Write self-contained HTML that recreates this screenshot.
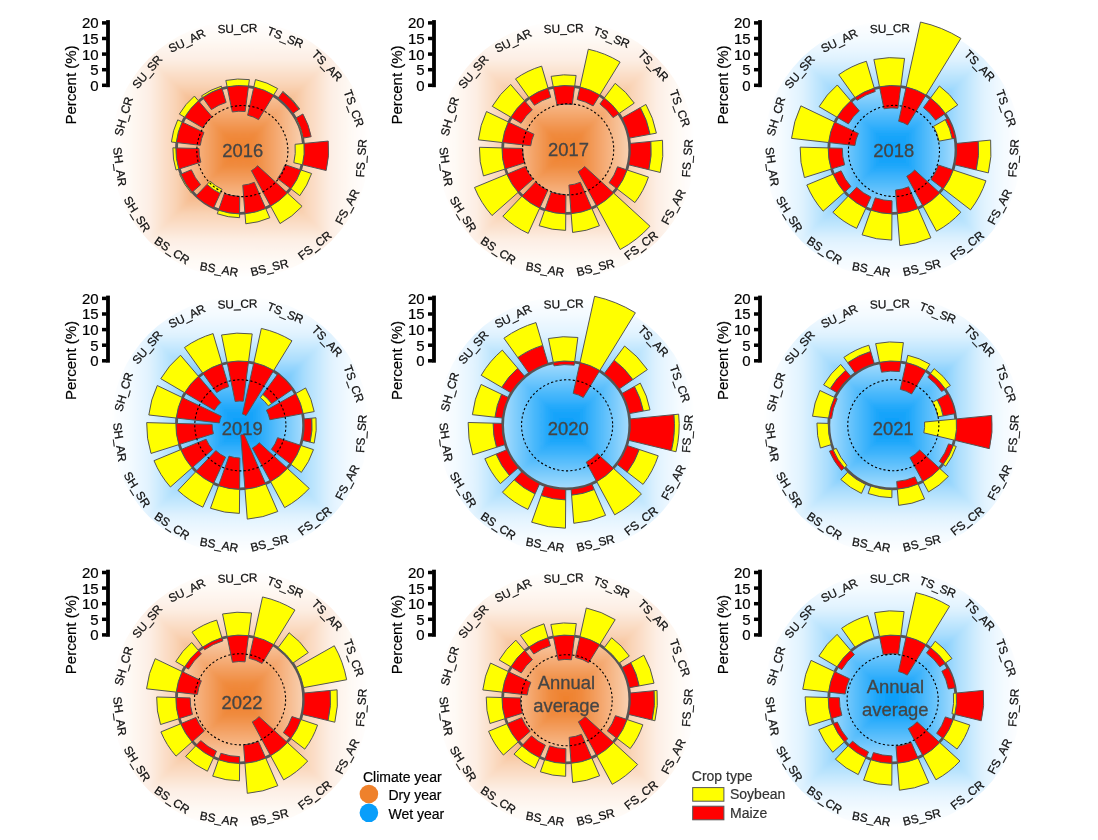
<!DOCTYPE html>
<html><head><meta charset="utf-8"><style>
html,body{margin:0;padding:0;background:#fff;}
svg{display:block;will-change:transform;}
text{-webkit-font-smoothing:antialiased;}
text{font-family:"Liberation Sans",Arial,sans-serif;}
.lab{font-size:11.8px;fill:#111;stroke:#111;stroke-width:0.25px;text-anchor:middle;}
.mz{fill:#FF0000;stroke:#555;stroke-width:1;}
.sb{fill:#FFFF00;stroke:#555;stroke-width:1;}
.zc{fill:none;stroke:#555;stroke-width:2.8;}
.dc{fill:none;stroke:#000;stroke-width:1.1;stroke-dasharray:2.2 2.2;}
.ttl{font-size:18.4px;fill:#454545;stroke:#454545;stroke-width:0.3px;text-anchor:middle;}
.tk{font-size:15px;fill:#000;stroke:#000;stroke-width:0.2px;text-anchor:end;}
.pl{font-size:15px;fill:#000;stroke:#000;stroke-width:0.2px;text-anchor:middle;}
.lg{font-size:14px;fill:#000;stroke:#000;stroke-width:0.2px;}
.lg2{font-size:14px;fill:#333;stroke:#333;stroke-width:0.2px;}
</style></head><body>
<svg width="1098" height="840" viewBox="0 0 1098 840">
<defs><filter id="bl" x="-10%" y="-10%" width="120%" height="120%"><feGaussianBlur stdDeviation="1.8"/></filter><linearGradient id="g00" gradientUnits="userSpaceOnUse" x1="240.05" y1="149.70" x2="240.05" y2="20.70"><stop offset="0.0" stop-color="#ef802c"/><stop offset="0.12" stop-color="#f08a3d"/><stop offset="0.3" stop-color="#f5ac76"/><stop offset="0.5" stop-color="#f9d3b5"/><stop offset="0.7" stop-color="#fdeee4"/><stop offset="0.85" stop-color="#fef9f4"/><stop offset="1.0" stop-color="#ffffff"/></linearGradient><linearGradient id="g01" gradientUnits="userSpaceOnUse" x1="240.05" y1="149.70" x2="369.05" y2="149.70"><stop offset="0.0" stop-color="#ef802c"/><stop offset="0.12" stop-color="#f08a3d"/><stop offset="0.3" stop-color="#f5ac76"/><stop offset="0.5" stop-color="#f9d3b5"/><stop offset="0.7" stop-color="#fdeee4"/><stop offset="0.85" stop-color="#fef9f4"/><stop offset="1.0" stop-color="#ffffff"/></linearGradient><linearGradient id="g02" gradientUnits="userSpaceOnUse" x1="240.05" y1="149.70" x2="240.05" y2="278.70"><stop offset="0.0" stop-color="#ef802c"/><stop offset="0.12" stop-color="#f08a3d"/><stop offset="0.3" stop-color="#f5ac76"/><stop offset="0.5" stop-color="#f9d3b5"/><stop offset="0.7" stop-color="#fdeee4"/><stop offset="0.85" stop-color="#fef9f4"/><stop offset="1.0" stop-color="#ffffff"/></linearGradient><linearGradient id="g03" gradientUnits="userSpaceOnUse" x1="240.05" y1="149.70" x2="111.05" y2="149.70"><stop offset="0.0" stop-color="#ef802c"/><stop offset="0.12" stop-color="#f08a3d"/><stop offset="0.3" stop-color="#f5ac76"/><stop offset="0.5" stop-color="#f9d3b5"/><stop offset="0.7" stop-color="#fdeee4"/><stop offset="0.85" stop-color="#fef9f4"/><stop offset="1.0" stop-color="#ffffff"/></linearGradient><clipPath id="c0"><circle cx="240.05" cy="149.70" r="129.0"/></clipPath><linearGradient id="g10" gradientUnits="userSpaceOnUse" x1="566.20" y1="149.70" x2="566.20" y2="20.70"><stop offset="0.0" stop-color="#ef802c"/><stop offset="0.12" stop-color="#f08a3d"/><stop offset="0.3" stop-color="#f5ac76"/><stop offset="0.5" stop-color="#f9d3b5"/><stop offset="0.7" stop-color="#fdeee4"/><stop offset="0.85" stop-color="#fef9f4"/><stop offset="1.0" stop-color="#ffffff"/></linearGradient><linearGradient id="g11" gradientUnits="userSpaceOnUse" x1="566.20" y1="149.70" x2="695.20" y2="149.70"><stop offset="0.0" stop-color="#ef802c"/><stop offset="0.12" stop-color="#f08a3d"/><stop offset="0.3" stop-color="#f5ac76"/><stop offset="0.5" stop-color="#f9d3b5"/><stop offset="0.7" stop-color="#fdeee4"/><stop offset="0.85" stop-color="#fef9f4"/><stop offset="1.0" stop-color="#ffffff"/></linearGradient><linearGradient id="g12" gradientUnits="userSpaceOnUse" x1="566.20" y1="149.70" x2="566.20" y2="278.70"><stop offset="0.0" stop-color="#ef802c"/><stop offset="0.12" stop-color="#f08a3d"/><stop offset="0.3" stop-color="#f5ac76"/><stop offset="0.5" stop-color="#f9d3b5"/><stop offset="0.7" stop-color="#fdeee4"/><stop offset="0.85" stop-color="#fef9f4"/><stop offset="1.0" stop-color="#ffffff"/></linearGradient><linearGradient id="g13" gradientUnits="userSpaceOnUse" x1="566.20" y1="149.70" x2="437.20" y2="149.70"><stop offset="0.0" stop-color="#ef802c"/><stop offset="0.12" stop-color="#f08a3d"/><stop offset="0.3" stop-color="#f5ac76"/><stop offset="0.5" stop-color="#f9d3b5"/><stop offset="0.7" stop-color="#fdeee4"/><stop offset="0.85" stop-color="#fef9f4"/><stop offset="1.0" stop-color="#ffffff"/></linearGradient><clipPath id="c1"><circle cx="566.20" cy="149.70" r="129.0"/></clipPath><linearGradient id="g20" gradientUnits="userSpaceOnUse" x1="892.40" y1="149.70" x2="892.40" y2="20.70"><stop offset="0.0" stop-color="#089efa"/><stop offset="0.12" stop-color="#1ca6fa"/><stop offset="0.3" stop-color="#5ec0fc"/><stop offset="0.5" stop-color="#a9ddfd"/><stop offset="0.7" stop-color="#dff2fe"/><stop offset="0.85" stop-color="#f3faff"/><stop offset="1.0" stop-color="#ffffff"/></linearGradient><linearGradient id="g21" gradientUnits="userSpaceOnUse" x1="892.40" y1="149.70" x2="1021.40" y2="149.70"><stop offset="0.0" stop-color="#089efa"/><stop offset="0.12" stop-color="#1ca6fa"/><stop offset="0.3" stop-color="#5ec0fc"/><stop offset="0.5" stop-color="#a9ddfd"/><stop offset="0.7" stop-color="#dff2fe"/><stop offset="0.85" stop-color="#f3faff"/><stop offset="1.0" stop-color="#ffffff"/></linearGradient><linearGradient id="g22" gradientUnits="userSpaceOnUse" x1="892.40" y1="149.70" x2="892.40" y2="278.70"><stop offset="0.0" stop-color="#089efa"/><stop offset="0.12" stop-color="#1ca6fa"/><stop offset="0.3" stop-color="#5ec0fc"/><stop offset="0.5" stop-color="#a9ddfd"/><stop offset="0.7" stop-color="#dff2fe"/><stop offset="0.85" stop-color="#f3faff"/><stop offset="1.0" stop-color="#ffffff"/></linearGradient><linearGradient id="g23" gradientUnits="userSpaceOnUse" x1="892.40" y1="149.70" x2="763.40" y2="149.70"><stop offset="0.0" stop-color="#089efa"/><stop offset="0.12" stop-color="#1ca6fa"/><stop offset="0.3" stop-color="#5ec0fc"/><stop offset="0.5" stop-color="#a9ddfd"/><stop offset="0.7" stop-color="#dff2fe"/><stop offset="0.85" stop-color="#f3faff"/><stop offset="1.0" stop-color="#ffffff"/></linearGradient><clipPath id="c2"><circle cx="892.40" cy="149.70" r="129.0"/></clipPath><linearGradient id="g30" gradientUnits="userSpaceOnUse" x1="240.05" y1="425.20" x2="240.05" y2="296.20"><stop offset="0.0" stop-color="#089efa"/><stop offset="0.12" stop-color="#1ca6fa"/><stop offset="0.3" stop-color="#5ec0fc"/><stop offset="0.5" stop-color="#a9ddfd"/><stop offset="0.7" stop-color="#dff2fe"/><stop offset="0.85" stop-color="#f3faff"/><stop offset="1.0" stop-color="#ffffff"/></linearGradient><linearGradient id="g31" gradientUnits="userSpaceOnUse" x1="240.05" y1="425.20" x2="369.05" y2="425.20"><stop offset="0.0" stop-color="#089efa"/><stop offset="0.12" stop-color="#1ca6fa"/><stop offset="0.3" stop-color="#5ec0fc"/><stop offset="0.5" stop-color="#a9ddfd"/><stop offset="0.7" stop-color="#dff2fe"/><stop offset="0.85" stop-color="#f3faff"/><stop offset="1.0" stop-color="#ffffff"/></linearGradient><linearGradient id="g32" gradientUnits="userSpaceOnUse" x1="240.05" y1="425.20" x2="240.05" y2="554.20"><stop offset="0.0" stop-color="#089efa"/><stop offset="0.12" stop-color="#1ca6fa"/><stop offset="0.3" stop-color="#5ec0fc"/><stop offset="0.5" stop-color="#a9ddfd"/><stop offset="0.7" stop-color="#dff2fe"/><stop offset="0.85" stop-color="#f3faff"/><stop offset="1.0" stop-color="#ffffff"/></linearGradient><linearGradient id="g33" gradientUnits="userSpaceOnUse" x1="240.05" y1="425.20" x2="111.05" y2="425.20"><stop offset="0.0" stop-color="#089efa"/><stop offset="0.12" stop-color="#1ca6fa"/><stop offset="0.3" stop-color="#5ec0fc"/><stop offset="0.5" stop-color="#a9ddfd"/><stop offset="0.7" stop-color="#dff2fe"/><stop offset="0.85" stop-color="#f3faff"/><stop offset="1.0" stop-color="#ffffff"/></linearGradient><clipPath id="c3"><circle cx="240.05" cy="425.20" r="129.0"/></clipPath><linearGradient id="g40" gradientUnits="userSpaceOnUse" x1="566.20" y1="425.20" x2="566.20" y2="296.20"><stop offset="0.0" stop-color="#089efa"/><stop offset="0.12" stop-color="#1ca6fa"/><stop offset="0.3" stop-color="#5ec0fc"/><stop offset="0.5" stop-color="#a9ddfd"/><stop offset="0.7" stop-color="#dff2fe"/><stop offset="0.85" stop-color="#f3faff"/><stop offset="1.0" stop-color="#ffffff"/></linearGradient><linearGradient id="g41" gradientUnits="userSpaceOnUse" x1="566.20" y1="425.20" x2="695.20" y2="425.20"><stop offset="0.0" stop-color="#089efa"/><stop offset="0.12" stop-color="#1ca6fa"/><stop offset="0.3" stop-color="#5ec0fc"/><stop offset="0.5" stop-color="#a9ddfd"/><stop offset="0.7" stop-color="#dff2fe"/><stop offset="0.85" stop-color="#f3faff"/><stop offset="1.0" stop-color="#ffffff"/></linearGradient><linearGradient id="g42" gradientUnits="userSpaceOnUse" x1="566.20" y1="425.20" x2="566.20" y2="554.20"><stop offset="0.0" stop-color="#089efa"/><stop offset="0.12" stop-color="#1ca6fa"/><stop offset="0.3" stop-color="#5ec0fc"/><stop offset="0.5" stop-color="#a9ddfd"/><stop offset="0.7" stop-color="#dff2fe"/><stop offset="0.85" stop-color="#f3faff"/><stop offset="1.0" stop-color="#ffffff"/></linearGradient><linearGradient id="g43" gradientUnits="userSpaceOnUse" x1="566.20" y1="425.20" x2="437.20" y2="425.20"><stop offset="0.0" stop-color="#089efa"/><stop offset="0.12" stop-color="#1ca6fa"/><stop offset="0.3" stop-color="#5ec0fc"/><stop offset="0.5" stop-color="#a9ddfd"/><stop offset="0.7" stop-color="#dff2fe"/><stop offset="0.85" stop-color="#f3faff"/><stop offset="1.0" stop-color="#ffffff"/></linearGradient><clipPath id="c4"><circle cx="566.20" cy="425.20" r="129.0"/></clipPath><linearGradient id="g50" gradientUnits="userSpaceOnUse" x1="892.40" y1="425.20" x2="892.40" y2="296.20"><stop offset="0.0" stop-color="#089efa"/><stop offset="0.12" stop-color="#1ca6fa"/><stop offset="0.3" stop-color="#5ec0fc"/><stop offset="0.5" stop-color="#a9ddfd"/><stop offset="0.7" stop-color="#dff2fe"/><stop offset="0.85" stop-color="#f3faff"/><stop offset="1.0" stop-color="#ffffff"/></linearGradient><linearGradient id="g51" gradientUnits="userSpaceOnUse" x1="892.40" y1="425.20" x2="1021.40" y2="425.20"><stop offset="0.0" stop-color="#089efa"/><stop offset="0.12" stop-color="#1ca6fa"/><stop offset="0.3" stop-color="#5ec0fc"/><stop offset="0.5" stop-color="#a9ddfd"/><stop offset="0.7" stop-color="#dff2fe"/><stop offset="0.85" stop-color="#f3faff"/><stop offset="1.0" stop-color="#ffffff"/></linearGradient><linearGradient id="g52" gradientUnits="userSpaceOnUse" x1="892.40" y1="425.20" x2="892.40" y2="554.20"><stop offset="0.0" stop-color="#089efa"/><stop offset="0.12" stop-color="#1ca6fa"/><stop offset="0.3" stop-color="#5ec0fc"/><stop offset="0.5" stop-color="#a9ddfd"/><stop offset="0.7" stop-color="#dff2fe"/><stop offset="0.85" stop-color="#f3faff"/><stop offset="1.0" stop-color="#ffffff"/></linearGradient><linearGradient id="g53" gradientUnits="userSpaceOnUse" x1="892.40" y1="425.20" x2="763.40" y2="425.20"><stop offset="0.0" stop-color="#089efa"/><stop offset="0.12" stop-color="#1ca6fa"/><stop offset="0.3" stop-color="#5ec0fc"/><stop offset="0.5" stop-color="#a9ddfd"/><stop offset="0.7" stop-color="#dff2fe"/><stop offset="0.85" stop-color="#f3faff"/><stop offset="1.0" stop-color="#ffffff"/></linearGradient><clipPath id="c5"><circle cx="892.40" cy="425.20" r="129.0"/></clipPath><linearGradient id="g60" gradientUnits="userSpaceOnUse" x1="240.05" y1="699.30" x2="240.05" y2="570.30"><stop offset="0.0" stop-color="#ef802c"/><stop offset="0.12" stop-color="#f08a3d"/><stop offset="0.3" stop-color="#f5ac76"/><stop offset="0.5" stop-color="#f9d3b5"/><stop offset="0.7" stop-color="#fdeee4"/><stop offset="0.85" stop-color="#fef9f4"/><stop offset="1.0" stop-color="#ffffff"/></linearGradient><linearGradient id="g61" gradientUnits="userSpaceOnUse" x1="240.05" y1="699.30" x2="369.05" y2="699.30"><stop offset="0.0" stop-color="#ef802c"/><stop offset="0.12" stop-color="#f08a3d"/><stop offset="0.3" stop-color="#f5ac76"/><stop offset="0.5" stop-color="#f9d3b5"/><stop offset="0.7" stop-color="#fdeee4"/><stop offset="0.85" stop-color="#fef9f4"/><stop offset="1.0" stop-color="#ffffff"/></linearGradient><linearGradient id="g62" gradientUnits="userSpaceOnUse" x1="240.05" y1="699.30" x2="240.05" y2="828.30"><stop offset="0.0" stop-color="#ef802c"/><stop offset="0.12" stop-color="#f08a3d"/><stop offset="0.3" stop-color="#f5ac76"/><stop offset="0.5" stop-color="#f9d3b5"/><stop offset="0.7" stop-color="#fdeee4"/><stop offset="0.85" stop-color="#fef9f4"/><stop offset="1.0" stop-color="#ffffff"/></linearGradient><linearGradient id="g63" gradientUnits="userSpaceOnUse" x1="240.05" y1="699.30" x2="111.05" y2="699.30"><stop offset="0.0" stop-color="#ef802c"/><stop offset="0.12" stop-color="#f08a3d"/><stop offset="0.3" stop-color="#f5ac76"/><stop offset="0.5" stop-color="#f9d3b5"/><stop offset="0.7" stop-color="#fdeee4"/><stop offset="0.85" stop-color="#fef9f4"/><stop offset="1.0" stop-color="#ffffff"/></linearGradient><clipPath id="c6"><circle cx="240.05" cy="699.30" r="129.0"/></clipPath><linearGradient id="g70" gradientUnits="userSpaceOnUse" x1="566.20" y1="699.30" x2="566.20" y2="570.30"><stop offset="0.0" stop-color="#ef802c"/><stop offset="0.12" stop-color="#f08a3d"/><stop offset="0.3" stop-color="#f5ac76"/><stop offset="0.5" stop-color="#f9d3b5"/><stop offset="0.7" stop-color="#fdeee4"/><stop offset="0.85" stop-color="#fef9f4"/><stop offset="1.0" stop-color="#ffffff"/></linearGradient><linearGradient id="g71" gradientUnits="userSpaceOnUse" x1="566.20" y1="699.30" x2="695.20" y2="699.30"><stop offset="0.0" stop-color="#ef802c"/><stop offset="0.12" stop-color="#f08a3d"/><stop offset="0.3" stop-color="#f5ac76"/><stop offset="0.5" stop-color="#f9d3b5"/><stop offset="0.7" stop-color="#fdeee4"/><stop offset="0.85" stop-color="#fef9f4"/><stop offset="1.0" stop-color="#ffffff"/></linearGradient><linearGradient id="g72" gradientUnits="userSpaceOnUse" x1="566.20" y1="699.30" x2="566.20" y2="828.30"><stop offset="0.0" stop-color="#ef802c"/><stop offset="0.12" stop-color="#f08a3d"/><stop offset="0.3" stop-color="#f5ac76"/><stop offset="0.5" stop-color="#f9d3b5"/><stop offset="0.7" stop-color="#fdeee4"/><stop offset="0.85" stop-color="#fef9f4"/><stop offset="1.0" stop-color="#ffffff"/></linearGradient><linearGradient id="g73" gradientUnits="userSpaceOnUse" x1="566.20" y1="699.30" x2="437.20" y2="699.30"><stop offset="0.0" stop-color="#ef802c"/><stop offset="0.12" stop-color="#f08a3d"/><stop offset="0.3" stop-color="#f5ac76"/><stop offset="0.5" stop-color="#f9d3b5"/><stop offset="0.7" stop-color="#fdeee4"/><stop offset="0.85" stop-color="#fef9f4"/><stop offset="1.0" stop-color="#ffffff"/></linearGradient><clipPath id="c7"><circle cx="566.20" cy="699.30" r="129.0"/></clipPath><linearGradient id="g80" gradientUnits="userSpaceOnUse" x1="892.40" y1="699.30" x2="892.40" y2="570.30"><stop offset="0.0" stop-color="#089efa"/><stop offset="0.12" stop-color="#1ca6fa"/><stop offset="0.3" stop-color="#5ec0fc"/><stop offset="0.5" stop-color="#a9ddfd"/><stop offset="0.7" stop-color="#dff2fe"/><stop offset="0.85" stop-color="#f3faff"/><stop offset="1.0" stop-color="#ffffff"/></linearGradient><linearGradient id="g81" gradientUnits="userSpaceOnUse" x1="892.40" y1="699.30" x2="1021.40" y2="699.30"><stop offset="0.0" stop-color="#089efa"/><stop offset="0.12" stop-color="#1ca6fa"/><stop offset="0.3" stop-color="#5ec0fc"/><stop offset="0.5" stop-color="#a9ddfd"/><stop offset="0.7" stop-color="#dff2fe"/><stop offset="0.85" stop-color="#f3faff"/><stop offset="1.0" stop-color="#ffffff"/></linearGradient><linearGradient id="g82" gradientUnits="userSpaceOnUse" x1="892.40" y1="699.30" x2="892.40" y2="828.30"><stop offset="0.0" stop-color="#089efa"/><stop offset="0.12" stop-color="#1ca6fa"/><stop offset="0.3" stop-color="#5ec0fc"/><stop offset="0.5" stop-color="#a9ddfd"/><stop offset="0.7" stop-color="#dff2fe"/><stop offset="0.85" stop-color="#f3faff"/><stop offset="1.0" stop-color="#ffffff"/></linearGradient><linearGradient id="g83" gradientUnits="userSpaceOnUse" x1="892.40" y1="699.30" x2="763.40" y2="699.30"><stop offset="0.0" stop-color="#089efa"/><stop offset="0.12" stop-color="#1ca6fa"/><stop offset="0.3" stop-color="#5ec0fc"/><stop offset="0.5" stop-color="#a9ddfd"/><stop offset="0.7" stop-color="#dff2fe"/><stop offset="0.85" stop-color="#f3faff"/><stop offset="1.0" stop-color="#ffffff"/></linearGradient><clipPath id="c8"><circle cx="892.40" cy="699.30" r="129.0"/></clipPath></defs>
<rect width="1098" height="840" fill="#fff"/>
<g clip-path="url(#c0)"><g filter="url(#bl)"><polygon points="240.05,150.40 96.35,6.70 383.75,6.70" fill="url(#g00)"/><polygon points="239.35,149.70 383.05,6.00 383.05,293.40" fill="url(#g01)"/><polygon points="240.05,149.00 383.75,292.70 96.35,292.70" fill="url(#g02)"/><polygon points="240.75,149.70 97.05,293.40 97.05,6.00" fill="url(#g03)"/></g></g><text class="lab" x="235.82" y="28.47" dx="1.7" dy="0.36em" transform="rotate(-2.00 235.82 28.47)">SU_CR</text><text class="lab" x="285.49" y="37.23" dx="0" dy="0.36em" transform="rotate(22.00 285.49 37.23)">TS_SR</text><text class="lab" x="327.31" y="65.44" dx="0" dy="0.36em" transform="rotate(46.00 327.31 65.44)">TS_AR</text><text class="lab" x="354.03" y="108.21" dx="0" dy="0.36em" transform="rotate(70.00 354.03 108.21)">TS_CR</text><text class="lab" x="361.05" y="158.16" dx="0" dy="0.36em" transform="rotate(-86.00 361.05 158.16)">FS_SR</text><text class="lab" x="347.15" y="206.65" dx="0" dy="0.36em" transform="rotate(-62.00 347.15 206.65)">FS_AR</text><text class="lab" x="314.73" y="245.29" dx="0" dy="0.36em" transform="rotate(-38.00 314.73 245.29)">FS_CR</text><text class="lab" x="269.40" y="267.40" dx="0" dy="0.36em" transform="rotate(-14.00 269.40 267.40)">BS_SR</text><text class="lab" x="218.99" y="269.16" dx="0" dy="0.36em" transform="rotate(10.00 218.99 269.16)">BS_AR</text><text class="lab" x="172.22" y="250.26" dx="0" dy="0.36em" transform="rotate(34.00 172.22 250.26)">BS_CR</text><text class="lab" x="137.18" y="213.98" dx="0" dy="0.36em" transform="rotate(58.00 137.18 213.98)">SH_SR</text><text class="lab" x="119.93" y="166.58" dx="0" dy="0.36em" transform="rotate(82.00 119.93 166.58)">SH_AR</text><text class="lab" x="123.45" y="116.27" dx="0" dy="0.36em" transform="rotate(-74.00 123.45 116.27)">SH_CR</text><text class="lab" x="147.13" y="71.73" dx="0" dy="0.36em" transform="rotate(-50.00 147.13 71.73)">SU_SR</text><text class="lab" x="186.88" y="40.68" dx="0" dy="0.36em" transform="rotate(-26.00 186.88 40.68)">SU_AR</text><circle class="zc" cx="240.05" cy="149.70" r="63.6"/><path class="mz" d="M232.31,111.99L227.14,86.81A64.20,64.20 0 0 1 248.54,86.06L245.14,111.54A38.50,38.50 0 0 0 232.31,111.99Z"/><path class="sb" d="M227.14,86.81L225.83,80.44A70.70,70.70 0 0 1 249.40,79.62L248.54,86.06A64.20,64.20 0 0 0 227.14,86.81Z"/><path class="mz" d="M247.63,115.22L253.84,87.00A64.20,64.20 0 0 1 273.69,95.02L258.55,119.63A35.30,35.30 0 0 0 247.63,115.22Z"/><path class="sb" d="M253.84,87.00L255.47,79.57A71.80,71.80 0 0 1 277.67,88.55L273.69,95.02A64.20,64.20 0 0 0 253.84,87.00Z"/><path class="mz" d="M278.15,98.03L282.60,91.99A71.70,71.70 0 0 1 299.21,109.19L293.02,113.43A64.20,64.20 0 0 0 278.15,98.03Z"/><path class="sb" d="M282.60,91.99L282.95,91.51A72.30,72.30 0 0 1 299.71,108.85L299.21,109.19A71.70,71.70 0 0 0 282.60,91.99Z"/><path class="mz" d="M295.87,117.99L302.91,113.99A72.30,72.30 0 0 1 311.16,136.65L303.20,138.11A64.20,64.20 0 0 0 295.87,117.99Z"/><path class="sb" d="M295.18,118.38L295.87,117.99A64.20,64.20 0 0 1 303.20,138.11L302.41,138.26A63.40,63.40 0 0 0 295.18,118.38Z"/><path class="mz" d="M303.94,143.44L328.23,141.05A88.60,88.60 0 0 1 326.17,170.53L302.45,164.80A64.20,64.20 0 0 0 303.94,143.44Z"/><path class="sb" d="M295.09,144.30L303.94,143.44A64.20,64.20 0 0 1 302.45,164.80L293.80,162.70A55.30,55.30 0 0 0 295.09,144.30Z"/><path class="mz" d="M285.03,164.66L300.97,169.96A64.20,64.20 0 0 1 290.91,188.87L277.60,178.62A47.40,47.40 0 0 0 285.03,164.66Z"/><path class="sb" d="M300.97,169.96L311.60,173.50A75.40,75.40 0 0 1 299.79,195.70L290.91,188.87A64.20,64.20 0 0 0 300.97,169.96Z"/><path class="mz" d="M257.63,165.75L287.46,192.99A64.20,64.20 0 0 1 270.59,206.17L251.37,170.64A23.80,23.80 0 0 0 257.63,165.75Z"/><path class="sb" d="M287.46,192.99L302.08,206.34A84.00,84.00 0 0 1 280.00,223.59L270.59,206.17A64.20,64.20 0 0 0 287.46,192.99Z"/><path class="mz" d="M254.30,182.32L265.75,208.53A64.20,64.20 0 0 1 244.98,213.71L242.78,185.20A35.60,35.60 0 0 0 254.30,182.32Z"/><path class="sb" d="M265.75,208.53L269.80,217.79A74.30,74.30 0 0 1 245.75,223.78L244.98,213.71A64.20,64.20 0 0 0 265.75,208.53Z"/><path class="mz" d="M239.72,196.30L239.60,213.90A64.20,64.20 0 0 1 218.51,210.18L224.42,193.60A46.60,46.60 0 0 0 239.72,196.30Z"/><path class="sb" d="M239.60,213.90L239.58,217.70A68.00,68.00 0 0 1 217.24,213.76L218.51,210.18A64.20,64.20 0 0 0 239.60,213.90Z"/><path class="mz" d="M220.26,193.32L213.53,208.17A64.20,64.20 0 0 1 195.78,196.19L207.02,184.39A47.90,47.90 0 0 0 220.26,193.32Z"/><path class="sb" d="M222.08,189.31L220.26,193.32A47.90,47.90 0 0 1 207.02,184.39L210.05,181.20A43.50,43.50 0 0 0 222.08,189.31Z"/><path class="mz" d="M200.64,184.69L192.04,192.32A64.20,64.20 0 0 1 180.69,174.16L191.33,169.78A52.70,52.70 0 0 0 200.64,184.69Z"/><path class="sb" d="M192.04,192.32L191.29,192.99A65.20,65.20 0 0 1 179.77,174.55L180.69,174.16A64.20,64.20 0 0 0 192.04,192.32Z"/><path class="mz" d="M200.87,162.13L178.86,169.11A64.20,64.20 0 0 1 175.88,147.91L198.97,148.55A41.10,41.10 0 0 0 200.87,162.13Z"/><path class="sb" d="M178.86,169.11L176.00,170.02A67.20,67.20 0 0 1 172.88,147.82L175.88,147.91A64.20,64.20 0 0 0 178.86,169.11Z"/><path class="mz" d="M200.30,145.24L176.25,142.54A64.20,64.20 0 0 1 182.15,121.96L203.98,132.42A40.00,40.00 0 0 0 200.30,145.24Z"/><path class="sb" d="M176.25,142.54L171.38,142.00A69.10,69.10 0 0 1 177.73,119.84L182.15,121.96A64.20,64.20 0 0 0 176.25,142.54Z"/><path class="mz" d="M202.79,127.84L184.68,117.21A64.20,64.20 0 0 1 198.44,100.81L212.05,116.80A43.20,43.20 0 0 0 202.79,127.84Z"/><path class="sb" d="M184.68,117.21L179.33,114.08A70.40,70.40 0 0 1 194.42,96.09L198.44,100.81A64.20,64.20 0 0 0 184.68,117.21Z"/><path class="mz" d="M211.35,109.61L202.68,97.50A64.20,64.20 0 0 1 221.92,88.11L226.13,102.41A49.30,49.30 0 0 0 211.35,109.61Z"/><path class="sb" d="M202.68,97.50L201.51,95.87A66.20,66.20 0 0 1 221.36,86.19L221.92,88.11A64.20,64.20 0 0 0 202.68,97.50Z"/><circle class="dc" cx="242.35" cy="151.10" r="45.55"/><text class="ttl" x="242.70" y="156.50">2016</text><g fill="#000"><rect x="106.10" y="20.10" width="3.8" height="67.10"/><rect x="102.00" y="83.55" width="4.6" height="3.5"/><text class="tk" x="98.70" y="90.70">0</text><rect x="102.00" y="67.95" width="4.6" height="3.5"/><text class="tk" x="98.70" y="75.10">5</text><rect x="102.00" y="52.35" width="4.6" height="3.5"/><text class="tk" x="98.70" y="59.50">10</text><rect x="102.00" y="36.75" width="4.6" height="3.5"/><text class="tk" x="98.70" y="43.90">15</text><rect x="102.00" y="21.15" width="4.6" height="3.5"/><text class="tk" x="98.70" y="28.30">20</text><text class="pl" x="76.10" y="85.00" transform="rotate(-90 76.10 85.00)">Percent (%)</text></g><g clip-path="url(#c1)"><g filter="url(#bl)"><polygon points="566.20,150.40 422.50,6.70 709.90,6.70" fill="url(#g10)"/><polygon points="565.50,149.70 709.20,6.00 709.20,293.40" fill="url(#g11)"/><polygon points="566.20,149.00 709.90,292.70 422.50,292.70" fill="url(#g12)"/><polygon points="566.90,149.70 423.20,293.40 423.20,6.00" fill="url(#g13)"/></g></g><text class="lab" x="561.97" y="28.47" dx="1.7" dy="0.36em" transform="rotate(-2.00 561.97 28.47)">SU_CR</text><text class="lab" x="611.64" y="37.23" dx="0" dy="0.36em" transform="rotate(22.00 611.64 37.23)">TS_SR</text><text class="lab" x="653.46" y="65.44" dx="0" dy="0.36em" transform="rotate(46.00 653.46 65.44)">TS_AR</text><text class="lab" x="680.18" y="108.21" dx="0" dy="0.36em" transform="rotate(70.00 680.18 108.21)">TS_CR</text><text class="lab" x="687.20" y="158.16" dx="0" dy="0.36em" transform="rotate(-86.00 687.20 158.16)">FS_SR</text><text class="lab" x="673.30" y="206.65" dx="0" dy="0.36em" transform="rotate(-62.00 673.30 206.65)">FS_AR</text><text class="lab" x="640.88" y="245.29" dx="0" dy="0.36em" transform="rotate(-38.00 640.88 245.29)">FS_CR</text><text class="lab" x="595.55" y="267.40" dx="0" dy="0.36em" transform="rotate(-14.00 595.55 267.40)">BS_SR</text><text class="lab" x="545.14" y="269.16" dx="0" dy="0.36em" transform="rotate(10.00 545.14 269.16)">BS_AR</text><text class="lab" x="498.37" y="250.26" dx="0" dy="0.36em" transform="rotate(34.00 498.37 250.26)">BS_CR</text><text class="lab" x="463.33" y="213.98" dx="0" dy="0.36em" transform="rotate(58.00 463.33 213.98)">SH_SR</text><text class="lab" x="446.08" y="166.58" dx="0" dy="0.36em" transform="rotate(82.00 446.08 166.58)">SH_AR</text><text class="lab" x="449.60" y="116.27" dx="0" dy="0.36em" transform="rotate(-74.00 449.60 116.27)">SH_CR</text><text class="lab" x="473.28" y="71.73" dx="0" dy="0.36em" transform="rotate(-50.00 473.28 71.73)">SU_SR</text><text class="lab" x="513.03" y="40.68" dx="0" dy="0.36em" transform="rotate(-26.00 513.03 40.68)">SU_AR</text><circle class="zc" cx="566.20" cy="149.70" r="63.6"/><path class="mz" d="M557.03,105.03L553.29,86.81A64.20,64.20 0 0 1 574.69,86.06L572.23,104.50A45.60,45.60 0 0 0 557.03,105.03Z"/><path class="sb" d="M553.29,86.81L551.14,76.33A74.90,74.90 0 0 1 576.11,75.46L574.69,86.06A64.20,64.20 0 0 0 553.29,86.81Z"/><path class="mz" d="M577.24,99.50L579.99,87.00A64.20,64.20 0 0 1 599.84,95.02L593.13,105.92A51.40,51.40 0 0 0 577.24,99.50Z"/><path class="sb" d="M579.99,87.00L588.30,49.20A102.90,102.90 0 0 1 620.12,62.06L599.84,95.02A64.20,64.20 0 0 0 579.99,87.00Z"/><path class="mz" d="M599.91,103.98L604.30,98.03A64.20,64.20 0 0 1 619.17,113.43L613.07,117.61A56.80,56.80 0 0 0 599.91,103.98Z"/><path class="sb" d="M604.30,98.03L615.16,83.30A82.50,82.50 0 0 1 634.27,103.09L619.17,113.43A64.20,64.20 0 0 0 604.30,98.03Z"/><path class="mz" d="M622.02,117.99L640.37,107.57A85.30,85.30 0 0 1 650.10,134.30L629.35,138.11A64.20,64.20 0 0 0 622.02,117.99Z"/><path class="sb" d="M640.37,107.57L645.93,104.41A91.70,91.70 0 0 1 656.39,133.15L650.10,134.30A85.30,85.30 0 0 0 640.37,107.57Z"/><path class="mz" d="M630.09,143.44L650.89,141.40A85.10,85.10 0 0 1 648.91,169.71L628.60,164.80A64.20,64.20 0 0 0 630.09,143.44Z"/><path class="sb" d="M650.89,141.40L662.54,140.25A96.80,96.80 0 0 1 660.29,172.46L648.91,169.71A85.10,85.10 0 0 0 650.89,141.40Z"/><path class="mz" d="M617.53,166.78L627.12,169.96A64.20,64.20 0 0 1 617.06,188.87L609.06,182.71A54.10,54.10 0 0 0 617.53,166.78Z"/><path class="sb" d="M627.12,169.96L648.47,177.07A86.70,86.70 0 0 1 634.89,202.60L617.06,188.87A64.20,64.20 0 0 0 627.12,169.96Z"/><path class="mz" d="M584.66,166.56L613.61,192.99A64.20,64.20 0 0 1 596.74,206.17L578.09,171.69A25.00,25.00 0 0 0 584.66,166.56Z"/><path class="sb" d="M613.61,192.99L650.01,226.23A113.50,113.50 0 0 1 620.18,249.54L596.74,206.17A64.20,64.20 0 0 0 613.61,192.99Z"/><path class="mz" d="M580.41,182.23L591.90,208.53A64.20,64.20 0 0 1 571.13,213.71L568.92,185.10A35.50,35.50 0 0 0 580.41,182.23Z"/><path class="sb" d="M591.90,208.53L599.43,225.76A83.00,83.00 0 0 1 572.57,232.46L571.13,213.71A64.20,64.20 0 0 0 591.90,208.53Z"/><path class="mz" d="M565.89,194.60L565.75,213.90A64.20,64.20 0 0 1 544.66,210.18L551.14,192.00A44.90,44.90 0 0 0 565.89,194.60Z"/><path class="sb" d="M565.75,213.90L565.64,230.40A80.70,80.70 0 0 1 539.13,225.72L544.66,210.18A64.20,64.20 0 0 0 565.75,213.90Z"/><path class="mz" d="M547.82,190.23L539.68,208.17A64.20,64.20 0 0 1 521.93,196.19L535.51,181.93A44.50,44.50 0 0 0 547.82,190.23Z"/><path class="sb" d="M539.68,208.17L528.24,233.39A91.90,91.90 0 0 1 502.82,216.25L521.93,196.19A64.20,64.20 0 0 0 539.68,208.17Z"/><path class="mz" d="M533.07,179.11L518.19,192.32A64.20,64.20 0 0 1 506.84,174.16L525.24,166.58A44.30,44.30 0 0 0 533.07,179.11Z"/><path class="sb" d="M518.19,192.32L492.02,215.56A99.20,99.20 0 0 1 474.49,187.50L506.84,174.16A64.20,64.20 0 0 0 518.19,192.32Z"/><path class="mz" d="M524.74,162.85L505.01,169.11A64.20,64.20 0 0 1 502.03,147.91L522.72,148.49A43.50,43.50 0 0 0 524.74,162.85Z"/><path class="sb" d="M505.01,169.11L483.46,175.95A86.80,86.80 0 0 1 479.43,147.28L502.03,147.91A64.20,64.20 0 0 0 505.01,169.11Z"/><path class="mz" d="M530.72,145.72L502.40,142.54A64.20,64.20 0 0 1 508.30,121.96L534.00,134.27A35.70,35.70 0 0 0 530.72,145.72Z"/><path class="sb" d="M502.40,142.54L478.35,139.85A88.40,88.40 0 0 1 486.48,111.50L508.30,121.96A64.20,64.20 0 0 0 502.40,142.54Z"/><path class="mz" d="M521.09,123.23L510.83,117.21A64.20,64.20 0 0 1 524.59,100.81L532.30,109.87A52.30,52.30 0 0 0 521.09,123.23Z"/><path class="sb" d="M510.83,117.21L492.28,106.33A85.70,85.70 0 0 1 510.66,84.44L524.59,100.81A64.20,64.20 0 0 0 510.83,117.21Z"/><path class="mz" d="M534.42,105.30L528.83,97.50A64.20,64.20 0 0 1 548.07,88.11L550.78,97.32A54.60,54.60 0 0 0 534.42,105.30Z"/><path class="sb" d="M528.83,97.50L515.50,78.88A87.10,87.10 0 0 1 541.61,66.14L548.07,88.11A64.20,64.20 0 0 0 528.83,97.50Z"/><circle class="dc" cx="568.15" cy="149.35" r="45.55"/><text class="ttl" x="568.55" y="156.30">2017</text><g fill="#000"><rect x="432.10" y="20.10" width="3.8" height="67.10"/><rect x="428.00" y="83.55" width="4.6" height="3.5"/><text class="tk" x="424.70" y="90.70">0</text><rect x="428.00" y="67.95" width="4.6" height="3.5"/><text class="tk" x="424.70" y="75.10">5</text><rect x="428.00" y="52.35" width="4.6" height="3.5"/><text class="tk" x="424.70" y="59.50">10</text><rect x="428.00" y="36.75" width="4.6" height="3.5"/><text class="tk" x="424.70" y="43.90">15</text><rect x="428.00" y="21.15" width="4.6" height="3.5"/><text class="tk" x="424.70" y="28.30">20</text><text class="pl" x="402.10" y="85.00" transform="rotate(-90 402.10 85.00)">Percent (%)</text></g><g clip-path="url(#c2)"><g filter="url(#bl)"><polygon points="892.40,150.40 748.70,6.70 1036.10,6.70" fill="url(#g20)"/><polygon points="891.70,149.70 1035.40,6.00 1035.40,293.40" fill="url(#g21)"/><polygon points="892.40,149.00 1036.10,292.70 748.70,292.70" fill="url(#g22)"/><polygon points="893.10,149.70 749.40,293.40 749.40,6.00" fill="url(#g23)"/></g></g><text class="lab" x="888.17" y="28.47" dx="1.7" dy="0.36em" transform="rotate(-2.00 888.17 28.47)">SU_CR</text><text class="lab" x="937.84" y="37.23" dx="0" dy="0.36em" transform="rotate(22.00 937.84 37.23)">TS_SR</text><text class="lab" x="979.66" y="65.44" dx="0" dy="0.36em" transform="rotate(46.00 979.66 65.44)">TS_AR</text><text class="lab" x="1006.38" y="108.21" dx="0" dy="0.36em" transform="rotate(70.00 1006.38 108.21)">TS_CR</text><text class="lab" x="1013.40" y="158.16" dx="0" dy="0.36em" transform="rotate(-86.00 1013.40 158.16)">FS_SR</text><text class="lab" x="999.50" y="206.65" dx="0" dy="0.36em" transform="rotate(-62.00 999.50 206.65)">FS_AR</text><text class="lab" x="967.08" y="245.29" dx="0" dy="0.36em" transform="rotate(-38.00 967.08 245.29)">FS_CR</text><text class="lab" x="921.75" y="267.40" dx="0" dy="0.36em" transform="rotate(-14.00 921.75 267.40)">BS_SR</text><text class="lab" x="871.34" y="269.16" dx="0" dy="0.36em" transform="rotate(10.00 871.34 269.16)">BS_AR</text><text class="lab" x="824.57" y="250.26" dx="0" dy="0.36em" transform="rotate(34.00 824.57 250.26)">BS_CR</text><text class="lab" x="789.53" y="213.98" dx="0" dy="0.36em" transform="rotate(58.00 789.53 213.98)">SH_SR</text><text class="lab" x="772.28" y="166.58" dx="0" dy="0.36em" transform="rotate(82.00 772.28 166.58)">SH_AR</text><text class="lab" x="775.80" y="116.27" dx="0" dy="0.36em" transform="rotate(-74.00 775.80 116.27)">SH_CR</text><text class="lab" x="799.48" y="71.73" dx="0" dy="0.36em" transform="rotate(-50.00 799.48 71.73)">SU_SR</text><text class="lab" x="839.23" y="40.68" dx="0" dy="0.36em" transform="rotate(-26.00 839.23 40.68)">SU_AR</text><circle class="zc" cx="892.40" cy="149.70" r="63.6"/><path class="mz" d="M883.99,108.75L879.49,86.81A64.20,64.20 0 0 1 900.89,86.06L897.93,108.27A41.80,41.80 0 0 0 883.99,108.75Z"/><path class="sb" d="M879.49,86.81L873.88,59.48A92.10,92.10 0 0 1 904.58,58.41L900.89,86.06A64.20,64.20 0 0 0 879.49,86.81Z"/><path class="mz" d="M898.65,121.28L906.19,87.00A64.20,64.20 0 0 1 926.04,95.02L907.65,124.91A29.10,29.10 0 0 0 898.65,121.28Z"/><path class="sb" d="M906.19,87.00L920.47,22.05A130.70,130.70 0 0 1 960.88,38.38L926.04,95.02A64.20,64.20 0 0 0 906.19,87.00Z"/><path class="mz" d="M923.44,107.60L930.50,98.03A64.20,64.20 0 0 1 945.37,113.43L935.55,120.15A52.30,52.30 0 0 0 923.44,107.60Z"/><path class="sb" d="M930.50,98.03L939.40,85.95A79.20,79.20 0 0 1 957.75,104.95L945.37,113.43A64.20,64.20 0 0 0 930.50,98.03Z"/><path class="mz" d="M945.27,119.67L948.22,117.99A64.20,64.20 0 0 1 955.55,138.11L952.20,138.72A60.80,60.80 0 0 0 945.27,119.67Z"/><path class="sb" d="M933.53,126.34L945.27,119.67A60.80,60.80 0 0 1 952.20,138.72L938.92,141.16A47.30,47.30 0 0 0 933.53,126.34Z"/><path class="mz" d="M956.29,143.44L978.29,141.28A86.30,86.30 0 0 1 976.28,169.99L954.80,164.80A64.20,64.20 0 0 0 956.29,143.44Z"/><path class="sb" d="M978.29,141.28L990.63,140.07A98.70,98.70 0 0 1 988.33,172.91L976.28,169.99A86.30,86.30 0 0 0 978.29,141.28Z"/><path class="mz" d="M938.42,165.01L953.32,169.96A64.20,64.20 0 0 1 943.26,188.87L930.83,179.29A48.50,48.50 0 0 0 938.42,165.01Z"/><path class="sb" d="M953.32,169.96L985.96,180.82A98.60,98.60 0 0 1 970.52,209.86L943.26,188.87A64.20,64.20 0 0 0 953.32,169.96Z"/><path class="mz" d="M914.70,170.06L939.81,192.99A64.20,64.20 0 0 1 922.94,206.17L906.76,176.27A30.20,30.20 0 0 0 914.70,170.06Z"/><path class="sb" d="M939.81,192.99L960.85,212.21A92.70,92.70 0 0 1 936.49,231.24L922.94,206.17A64.20,64.20 0 0 0 939.81,192.99Z"/><path class="mz" d="M908.61,186.81L918.10,208.53A64.20,64.20 0 0 1 897.33,213.71L895.51,190.08A40.50,40.50 0 0 0 908.61,186.81Z"/><path class="sb" d="M918.10,208.53L930.91,237.85A96.20,96.20 0 0 1 899.78,245.62L897.33,213.71A64.20,64.20 0 0 0 918.10,208.53Z"/><path class="mz" d="M892.04,200.80L891.95,213.90A64.20,64.20 0 0 1 870.86,210.18L875.26,197.84A51.10,51.10 0 0 0 892.04,200.80Z"/><path class="sb" d="M891.95,213.90L891.77,240.10A90.40,90.40 0 0 1 862.08,234.86L870.86,210.18A64.20,64.20 0 0 0 891.95,213.90Z"/><path class="mz" d="M870.96,196.96L865.88,208.17A64.20,64.20 0 0 1 848.13,196.19L856.61,187.28A51.90,51.90 0 0 0 870.96,196.96Z"/><path class="sb" d="M865.88,208.17L856.71,228.38A86.40,86.40 0 0 1 832.82,212.27L848.13,196.19A64.20,64.20 0 0 0 865.88,208.17Z"/><path class="mz" d="M850.90,186.55L844.39,192.32A64.20,64.20 0 0 1 833.04,174.16L841.09,170.85A55.50,55.50 0 0 0 850.90,186.55Z"/><path class="sb" d="M844.39,192.32L823.15,211.18A92.60,92.60 0 0 1 806.79,184.99L833.04,174.16A64.20,64.20 0 0 0 844.39,192.32Z"/><path class="mz" d="M844.65,164.85L831.21,169.11A64.20,64.20 0 0 1 828.23,147.91L842.32,148.30A50.10,50.10 0 0 0 844.65,164.85Z"/><path class="sb" d="M831.21,169.11L804.42,177.61A92.30,92.30 0 0 1 800.14,147.12L828.23,147.91A64.20,64.20 0 0 0 831.21,169.11Z"/><path class="mz" d="M854.93,145.50L828.60,142.54A64.20,64.20 0 0 1 834.50,121.96L858.40,133.41A37.70,37.70 0 0 0 854.93,145.50Z"/><path class="sb" d="M828.60,142.54L791.53,138.39A101.50,101.50 0 0 1 800.86,105.84L834.50,121.96A64.20,64.20 0 0 0 828.60,142.54Z"/><path class="mz" d="M848.41,123.89L837.03,117.21A64.20,64.20 0 0 1 850.79,100.81L859.35,110.86A51.00,51.00 0 0 0 848.41,123.89Z"/><path class="sb" d="M837.03,117.21L819.09,106.69A85.00,85.00 0 0 1 837.31,84.97L850.79,100.81A64.20,64.20 0 0 0 837.03,117.21Z"/><path class="mz" d="M857.07,100.34L855.03,97.50A64.20,64.20 0 0 1 874.27,88.11L875.26,91.47A60.70,60.70 0 0 0 857.07,100.34Z"/><path class="sb" d="M855.03,97.50L838.73,74.73A92.20,92.20 0 0 1 866.37,61.25L874.27,88.11A64.20,64.20 0 0 0 855.03,97.50Z"/><circle class="dc" cx="893.95" cy="150.95" r="45.55"/><text class="ttl" x="893.80" y="156.80">2018</text><g fill="#000"><rect x="758.10" y="20.10" width="3.8" height="67.10"/><rect x="754.00" y="83.55" width="4.6" height="3.5"/><text class="tk" x="750.70" y="90.70">0</text><rect x="754.00" y="67.95" width="4.6" height="3.5"/><text class="tk" x="750.70" y="75.10">5</text><rect x="754.00" y="52.35" width="4.6" height="3.5"/><text class="tk" x="750.70" y="59.50">10</text><rect x="754.00" y="36.75" width="4.6" height="3.5"/><text class="tk" x="750.70" y="43.90">15</text><rect x="754.00" y="21.15" width="4.6" height="3.5"/><text class="tk" x="750.70" y="28.30">20</text><text class="pl" x="728.10" y="85.00" transform="rotate(-90 728.10 85.00)">Percent (%)</text></g><g clip-path="url(#c3)"><g filter="url(#bl)"><polygon points="240.05,425.90 96.35,282.20 383.75,282.20" fill="url(#g30)"/><polygon points="239.35,425.20 383.05,281.50 383.05,568.90" fill="url(#g31)"/><polygon points="240.05,424.50 383.75,568.20 96.35,568.20" fill="url(#g32)"/><polygon points="240.75,425.20 97.05,568.90 97.05,281.50" fill="url(#g33)"/></g></g><text class="lab" x="235.82" y="303.97" dx="1.7" dy="0.36em" transform="rotate(-2.00 235.82 303.97)">SU_CR</text><text class="lab" x="285.49" y="312.73" dx="0" dy="0.36em" transform="rotate(22.00 285.49 312.73)">TS_SR</text><text class="lab" x="327.31" y="340.94" dx="0" dy="0.36em" transform="rotate(46.00 327.31 340.94)">TS_AR</text><text class="lab" x="354.03" y="383.71" dx="0" dy="0.36em" transform="rotate(70.00 354.03 383.71)">TS_CR</text><text class="lab" x="361.05" y="433.66" dx="0" dy="0.36em" transform="rotate(-86.00 361.05 433.66)">FS_SR</text><text class="lab" x="347.15" y="482.15" dx="0" dy="0.36em" transform="rotate(-62.00 347.15 482.15)">FS_AR</text><text class="lab" x="314.73" y="520.79" dx="0" dy="0.36em" transform="rotate(-38.00 314.73 520.79)">FS_CR</text><text class="lab" x="269.40" y="542.90" dx="0" dy="0.36em" transform="rotate(-14.00 269.40 542.90)">BS_SR</text><text class="lab" x="218.99" y="544.66" dx="0" dy="0.36em" transform="rotate(10.00 218.99 544.66)">BS_AR</text><text class="lab" x="172.22" y="525.76" dx="0" dy="0.36em" transform="rotate(34.00 172.22 525.76)">BS_CR</text><text class="lab" x="137.18" y="489.48" dx="0" dy="0.36em" transform="rotate(58.00 137.18 489.48)">SH_SR</text><text class="lab" x="119.93" y="442.08" dx="0" dy="0.36em" transform="rotate(82.00 119.93 442.08)">SH_AR</text><text class="lab" x="123.45" y="391.77" dx="0" dy="0.36em" transform="rotate(-74.00 123.45 391.77)">SH_CR</text><text class="lab" x="147.13" y="347.23" dx="0" dy="0.36em" transform="rotate(-50.00 147.13 347.23)">SU_SR</text><text class="lab" x="186.88" y="316.18" dx="0" dy="0.36em" transform="rotate(-26.00 186.88 316.18)">SU_AR</text><circle class="zc" cx="240.05" cy="425.20" r="63.6"/><path class="mz" d="M235.18,401.49L227.14,362.31A64.20,64.20 0 0 1 248.54,361.56L243.25,401.21A24.20,24.20 0 0 0 235.18,401.49Z"/><path class="sb" d="M227.14,362.31L221.53,334.98A92.10,92.10 0 0 1 252.23,333.91L248.54,361.56A64.20,64.20 0 0 0 227.14,362.31Z"/><path class="mz" d="M242.50,414.07L253.84,362.50A64.20,64.20 0 0 1 273.69,370.52L246.02,415.49A11.40,11.40 0 0 0 242.50,414.07Z"/><path class="sb" d="M253.84,362.50L261.33,328.41A99.10,99.10 0 0 1 291.98,340.79L273.69,370.52A64.20,64.20 0 0 0 253.84,362.50Z"/><path class="mz" d="M262.72,394.45L278.15,373.53A64.20,64.20 0 0 1 293.02,388.93L271.57,403.62A38.20,38.20 0 0 0 262.72,394.45Z"/><path class="sb" d="M260.34,397.67L262.72,394.45A38.20,38.20 0 0 1 271.57,403.62L268.27,405.88A34.20,34.20 0 0 0 260.34,397.67Z"/><path class="mz" d="M266.40,410.23L295.87,393.49A64.20,64.20 0 0 1 303.20,413.61L269.85,419.73A30.30,30.30 0 0 0 266.40,410.23Z"/><path class="sb" d="M295.87,393.49L305.61,387.96A75.40,75.40 0 0 1 314.21,411.59L303.20,413.61A64.20,64.20 0 0 0 295.87,393.49Z"/><path class="mz" d="M303.94,418.94L311.81,418.16A72.10,72.10 0 0 1 310.13,442.15L302.45,440.30A64.20,64.20 0 0 0 303.94,418.94Z"/><path class="sb" d="M311.81,418.16L315.99,417.75A76.30,76.30 0 0 1 314.21,443.14L310.13,442.15A72.10,72.10 0 0 0 311.81,418.16Z"/><path class="mz" d="M277.63,437.70L300.97,445.46A64.20,64.20 0 0 1 290.91,464.37L271.42,449.36A39.60,39.60 0 0 0 277.63,437.70Z"/><path class="sb" d="M300.97,445.46L313.49,449.63A77.40,77.40 0 0 1 301.37,472.43L290.91,464.37A64.20,64.20 0 0 0 300.97,445.46Z"/><path class="mz" d="M259.25,442.73L287.46,468.49A64.20,64.20 0 0 1 270.59,481.67L252.42,448.07A26.00,26.00 0 0 0 259.25,442.73Z"/><path class="sb" d="M287.46,468.49L309.24,488.38A93.70,93.70 0 0 1 284.62,507.62L270.59,481.67A64.20,64.20 0 0 0 287.46,468.49Z"/><path class="mz" d="M243.97,434.18L265.75,484.03A64.20,64.20 0 0 1 244.98,489.21L240.80,434.97A9.80,9.80 0 0 0 243.97,434.18Z"/><path class="sb" d="M265.75,484.03L277.76,511.52A94.20,94.20 0 0 1 247.28,519.12L244.98,489.21A64.20,64.20 0 0 0 265.75,484.03Z"/><path class="mz" d="M239.82,458.00L239.60,489.40A64.20,64.20 0 0 1 218.51,485.68L229.05,456.10A32.80,32.80 0 0 0 239.82,458.00Z"/><path class="sb" d="M239.60,489.40L239.43,513.40A88.20,88.20 0 0 1 210.46,508.29L218.51,485.68A64.20,64.20 0 0 0 239.60,489.40Z"/><path class="mz" d="M225.55,457.16L213.53,483.67A64.20,64.20 0 0 1 195.78,471.69L215.84,450.62A35.10,35.10 0 0 0 225.55,457.16Z"/><path class="sb" d="M213.53,483.67L202.87,507.16A90.00,90.00 0 0 1 177.98,490.38L195.78,471.69A64.20,64.20 0 0 0 213.53,483.67Z"/><path class="mz" d="M212.61,449.57L192.04,467.82A64.20,64.20 0 0 1 180.69,449.66L206.12,439.19A36.70,36.70 0 0 0 212.61,449.57Z"/><path class="sb" d="M192.04,467.82L170.43,487.01A93.10,93.10 0 0 1 153.97,460.68L180.69,449.66A64.20,64.20 0 0 0 192.04,467.82Z"/><path class="mz" d="M213.46,433.64L178.86,444.61A64.20,64.20 0 0 1 175.88,423.41L212.16,424.42A27.90,27.90 0 0 0 213.46,433.64Z"/><path class="sb" d="M178.86,444.61L151.02,453.44A93.40,93.40 0 0 1 146.69,422.59L175.88,423.41A64.20,64.20 0 0 0 178.86,444.61Z"/><path class="mz" d="M219.38,422.88L176.25,418.04A64.20,64.20 0 0 1 182.15,397.46L221.29,416.21A20.80,20.80 0 0 0 219.38,422.88Z"/><path class="sb" d="M176.25,418.04L148.82,414.97A91.80,91.80 0 0 1 157.26,385.53L182.15,397.46A64.20,64.20 0 0 0 176.25,418.04Z"/><path class="mz" d="M214.43,410.17L184.68,392.71A64.20,64.20 0 0 1 198.44,376.31L220.80,402.58A29.70,29.70 0 0 0 214.43,410.17Z"/><path class="sb" d="M184.68,392.71L160.78,378.70A91.90,91.90 0 0 1 180.49,355.21L198.44,376.31A64.20,64.20 0 0 0 184.68,392.71Z"/><path class="mz" d="M216.65,392.51L202.68,373.00A64.20,64.20 0 0 1 221.92,363.61L228.70,386.64A40.20,40.20 0 0 0 216.65,392.51Z"/><path class="sb" d="M202.68,373.00L184.46,347.55A95.50,95.50 0 0 1 213.09,333.59L221.92,363.61A64.20,64.20 0 0 0 202.68,373.00Z"/><circle class="dc" cx="240.35" cy="425.35" r="45.55"/><text class="ttl" x="242.20" y="434.60">2019</text><g fill="#000"><rect x="106.10" y="295.60" width="3.8" height="67.10"/><rect x="102.00" y="359.05" width="4.6" height="3.5"/><text class="tk" x="98.70" y="366.20">0</text><rect x="102.00" y="343.45" width="4.6" height="3.5"/><text class="tk" x="98.70" y="350.60">5</text><rect x="102.00" y="327.85" width="4.6" height="3.5"/><text class="tk" x="98.70" y="335.00">10</text><rect x="102.00" y="312.25" width="4.6" height="3.5"/><text class="tk" x="98.70" y="319.40">15</text><rect x="102.00" y="296.65" width="4.6" height="3.5"/><text class="tk" x="98.70" y="303.80">20</text><text class="pl" x="76.10" y="360.50" transform="rotate(-90 76.10 360.50)">Percent (%)</text></g><g clip-path="url(#c4)"><g filter="url(#bl)"><polygon points="566.20,425.90 422.50,282.20 709.90,282.20" fill="url(#g40)"/><polygon points="565.50,425.20 709.20,281.50 709.20,568.90" fill="url(#g41)"/><polygon points="566.20,424.50 709.90,568.20 422.50,568.20" fill="url(#g42)"/><polygon points="566.90,425.20 423.20,568.90 423.20,281.50" fill="url(#g43)"/></g></g><text class="lab" x="561.97" y="303.97" dx="1.7" dy="0.36em" transform="rotate(-2.00 561.97 303.97)">SU_CR</text><text class="lab" x="611.64" y="312.73" dx="0" dy="0.36em" transform="rotate(22.00 611.64 312.73)">TS_SR</text><text class="lab" x="653.46" y="340.94" dx="0" dy="0.36em" transform="rotate(46.00 653.46 340.94)">TS_AR</text><text class="lab" x="680.18" y="383.71" dx="0" dy="0.36em" transform="rotate(70.00 680.18 383.71)">TS_CR</text><text class="lab" x="687.20" y="433.66" dx="0" dy="0.36em" transform="rotate(-86.00 687.20 433.66)">FS_SR</text><text class="lab" x="673.30" y="482.15" dx="0" dy="0.36em" transform="rotate(-62.00 673.30 482.15)">FS_AR</text><text class="lab" x="640.88" y="520.79" dx="0" dy="0.36em" transform="rotate(-38.00 640.88 520.79)">FS_CR</text><text class="lab" x="595.55" y="542.90" dx="0" dy="0.36em" transform="rotate(-14.00 595.55 542.90)">BS_SR</text><text class="lab" x="545.14" y="544.66" dx="0" dy="0.36em" transform="rotate(10.00 545.14 544.66)">BS_AR</text><text class="lab" x="498.37" y="525.76" dx="0" dy="0.36em" transform="rotate(34.00 498.37 525.76)">BS_CR</text><text class="lab" x="463.33" y="489.48" dx="0" dy="0.36em" transform="rotate(58.00 463.33 489.48)">SH_SR</text><text class="lab" x="446.08" y="442.08" dx="0" dy="0.36em" transform="rotate(82.00 446.08 442.08)">SH_AR</text><text class="lab" x="449.60" y="391.77" dx="0" dy="0.36em" transform="rotate(-74.00 449.60 391.77)">SH_CR</text><text class="lab" x="473.28" y="347.23" dx="0" dy="0.36em" transform="rotate(-50.00 473.28 347.23)">SU_SR</text><text class="lab" x="513.03" y="316.18" dx="0" dy="0.36em" transform="rotate(-26.00 513.03 316.18)">SU_AR</text><circle class="zc" cx="566.20" cy="425.20" r="63.6"/><path class="mz" d="M554.01,365.84L553.29,362.31A64.20,64.20 0 0 1 574.69,361.56L574.21,365.13A60.60,60.60 0 0 0 554.01,365.84Z"/><path class="sb" d="M553.29,362.31L548.40,338.51A88.50,88.50 0 0 1 577.90,337.48L574.69,361.56A64.20,64.20 0 0 0 553.29,362.31Z"/><path class="mz" d="M573.20,393.36L579.99,362.50A64.20,64.20 0 0 1 599.84,370.52L583.28,397.43A32.60,32.60 0 0 0 573.20,393.36Z"/><path class="sb" d="M579.99,362.50L594.55,296.28A132.00,132.00 0 0 1 635.37,312.77L599.84,370.52A64.20,64.20 0 0 0 579.99,362.50Z"/><path class="mz" d="M604.30,373.53L614.15,360.16A80.80,80.80 0 0 1 632.87,379.55L619.17,388.93A64.20,64.20 0 0 0 604.30,373.53Z"/><path class="sb" d="M614.15,360.16L624.59,346.00A98.40,98.40 0 0 1 647.39,369.61L632.87,379.55A80.80,80.80 0 0 0 614.15,360.16Z"/><path class="mz" d="M622.02,393.49L634.46,386.43A78.50,78.50 0 0 1 643.41,411.03L629.35,413.61A64.20,64.20 0 0 0 622.02,393.49Z"/><path class="sb" d="M634.46,386.43L640.28,383.12A85.20,85.20 0 0 1 650.00,409.82L643.41,411.03A78.50,78.50 0 0 0 634.46,386.43Z"/><path class="mz" d="M630.09,418.94L673.98,414.63A108.30,108.30 0 0 1 671.46,450.67L628.60,440.30A64.20,64.20 0 0 0 630.09,418.94Z"/><path class="sb" d="M673.98,414.63L678.66,414.17A113.00,113.00 0 0 1 676.03,451.77L671.46,450.67A108.30,108.30 0 0 0 673.98,414.63Z"/><path class="mz" d="M627.12,445.46L639.26,449.50A77.00,77.00 0 0 1 627.21,472.18L617.06,464.37A64.20,64.20 0 0 0 627.12,445.46Z"/><path class="sb" d="M639.26,449.50L658.24,455.82A97.00,97.00 0 0 1 643.05,484.38L627.21,472.18A77.00,77.00 0 0 0 639.26,449.50Z"/><path class="mz" d="M597.22,453.52L613.61,468.49A64.20,64.20 0 0 1 596.74,481.67L586.18,462.15A42.00,42.00 0 0 0 597.22,453.52Z"/><path class="sb" d="M613.61,468.49L641.45,493.91A101.90,101.90 0 0 1 614.67,514.84L596.74,481.67A64.20,64.20 0 0 0 613.61,468.49Z"/><path class="mz" d="M591.90,484.03L594.30,489.53A70.20,70.20 0 0 1 571.59,495.19L571.13,489.21A64.20,64.20 0 0 0 591.90,484.03Z"/><path class="sb" d="M594.30,489.53L605.59,515.37A98.40,98.40 0 0 1 573.75,523.31L571.59,495.19A70.20,70.20 0 0 0 594.30,489.53Z"/><path class="mz" d="M565.75,489.40L565.68,499.90A74.70,74.70 0 0 1 541.14,495.57L544.66,485.68A64.20,64.20 0 0 0 565.75,489.40Z"/><path class="sb" d="M565.68,499.90L565.48,528.20A103.00,103.00 0 0 1 531.65,522.23L541.14,495.57A74.70,74.70 0 0 0 565.68,499.90Z"/><path class="mz" d="M539.68,483.67L535.01,493.96A75.50,75.50 0 0 1 514.13,479.87L521.93,471.69A64.20,64.20 0 0 0 539.68,483.67Z"/><path class="sb" d="M535.01,493.96L527.99,509.44A92.50,92.50 0 0 1 502.41,492.19L514.13,479.87A75.50,75.50 0 0 0 535.01,493.96Z"/><path class="mz" d="M518.19,467.82L509.44,475.59A75.90,75.90 0 0 1 496.03,454.12L506.84,449.66A64.20,64.20 0 0 0 518.19,467.82Z"/><path class="sb" d="M509.44,475.59L500.39,483.63A88.00,88.00 0 0 1 484.84,458.73L496.03,454.12A75.90,75.90 0 0 0 509.44,475.59Z"/><path class="mz" d="M505.01,444.61L496.52,447.30A73.10,73.10 0 0 1 493.13,423.16L502.03,423.41A64.20,64.20 0 0 0 505.01,444.61Z"/><path class="sb" d="M496.52,447.30L472.69,454.86A98.10,98.10 0 0 1 468.14,422.46L493.13,423.16A73.10,73.10 0 0 0 496.52,447.30Z"/><path class="mz" d="M502.40,418.04L494.95,417.21A71.70,71.70 0 0 1 501.54,394.22L508.30,397.46A64.20,64.20 0 0 0 502.40,418.04Z"/><path class="sb" d="M494.95,417.21L472.39,414.68A94.40,94.40 0 0 1 481.07,384.41L501.54,394.22A71.70,71.70 0 0 0 494.95,417.21Z"/><path class="mz" d="M510.83,392.71L501.68,387.35A74.80,74.80 0 0 1 517.72,368.24L524.59,376.31A64.20,64.20 0 0 0 510.83,392.71Z"/><path class="sb" d="M501.68,387.35L481.16,375.31A98.60,98.60 0 0 1 502.30,350.11L517.72,368.24A74.80,74.80 0 0 0 501.68,387.35Z"/><path class="mz" d="M528.83,373.00L517.77,357.55A83.20,83.20 0 0 1 542.71,345.39L548.07,363.61A64.20,64.20 0 0 0 528.83,373.00Z"/><path class="sb" d="M517.77,357.55L503.91,338.20A107.00,107.00 0 0 1 535.99,322.55L542.71,345.39A83.20,83.20 0 0 0 517.77,357.55Z"/><circle class="dc" cx="567.10" cy="425.30" r="45.55"/><text class="ttl" x="568.30" y="434.50">2020</text><g fill="#000"><rect x="432.10" y="295.60" width="3.8" height="67.10"/><rect x="428.00" y="359.05" width="4.6" height="3.5"/><text class="tk" x="424.70" y="366.20">0</text><rect x="428.00" y="343.45" width="4.6" height="3.5"/><text class="tk" x="424.70" y="350.60">5</text><rect x="428.00" y="327.85" width="4.6" height="3.5"/><text class="tk" x="424.70" y="335.00">10</text><rect x="428.00" y="312.25" width="4.6" height="3.5"/><text class="tk" x="424.70" y="319.40">15</text><rect x="428.00" y="296.65" width="4.6" height="3.5"/><text class="tk" x="424.70" y="303.80">20</text><text class="pl" x="402.10" y="360.50" transform="rotate(-90 402.10 360.50)">Percent (%)</text></g><g clip-path="url(#c5)"><g filter="url(#bl)"><polygon points="892.40,425.90 748.70,282.20 1036.10,282.20" fill="url(#g50)"/><polygon points="891.70,425.20 1035.40,281.50 1035.40,568.90" fill="url(#g51)"/><polygon points="892.40,424.50 1036.10,568.20 748.70,568.20" fill="url(#g52)"/><polygon points="893.10,425.20 749.40,568.90 749.40,281.50" fill="url(#g53)"/></g></g><text class="lab" x="888.17" y="303.97" dx="1.7" dy="0.36em" transform="rotate(-2.00 888.17 303.97)">SU_CR</text><text class="lab" x="937.84" y="312.73" dx="0" dy="0.36em" transform="rotate(22.00 937.84 312.73)">TS_SR</text><text class="lab" x="979.66" y="340.94" dx="0" dy="0.36em" transform="rotate(46.00 979.66 340.94)">TS_AR</text><text class="lab" x="1006.38" y="383.71" dx="0" dy="0.36em" transform="rotate(70.00 1006.38 383.71)">TS_CR</text><text class="lab" x="1013.40" y="433.66" dx="0" dy="0.36em" transform="rotate(-86.00 1013.40 433.66)">FS_SR</text><text class="lab" x="999.50" y="482.15" dx="0" dy="0.36em" transform="rotate(-62.00 999.50 482.15)">FS_AR</text><text class="lab" x="967.08" y="520.79" dx="0" dy="0.36em" transform="rotate(-38.00 967.08 520.79)">FS_CR</text><text class="lab" x="921.75" y="542.90" dx="0" dy="0.36em" transform="rotate(-14.00 921.75 542.90)">BS_SR</text><text class="lab" x="871.34" y="544.66" dx="0" dy="0.36em" transform="rotate(10.00 871.34 544.66)">BS_AR</text><text class="lab" x="824.57" y="525.76" dx="0" dy="0.36em" transform="rotate(34.00 824.57 525.76)">BS_CR</text><text class="lab" x="789.53" y="489.48" dx="0" dy="0.36em" transform="rotate(58.00 789.53 489.48)">SH_SR</text><text class="lab" x="772.28" y="442.08" dx="0" dy="0.36em" transform="rotate(82.00 772.28 442.08)">SH_AR</text><text class="lab" x="775.80" y="391.77" dx="0" dy="0.36em" transform="rotate(-74.00 775.80 391.77)">SH_CR</text><text class="lab" x="799.48" y="347.23" dx="0" dy="0.36em" transform="rotate(-50.00 799.48 347.23)">SU_SR</text><text class="lab" x="839.23" y="316.18" dx="0" dy="0.36em" transform="rotate(-26.00 839.23 316.18)">SU_AR</text><circle class="zc" cx="892.40" cy="425.20" r="63.6"/><path class="mz" d="M881.52,372.20L879.49,362.31A64.20,64.20 0 0 1 900.89,361.56L899.56,371.58A54.10,54.10 0 0 0 881.52,372.20Z"/><path class="sb" d="M879.49,362.31L875.65,343.60A83.30,83.30 0 0 1 903.42,342.63L900.89,361.56A64.20,64.20 0 0 0 879.49,362.31Z"/><path class="mz" d="M900.28,389.36L906.19,362.50A64.20,64.20 0 0 1 926.04,370.52L911.63,393.94A36.70,36.70 0 0 0 900.28,389.36Z"/><path class="sb" d="M906.19,362.50L907.78,355.27A71.60,71.60 0 0 1 929.92,364.22L926.04,370.52A64.20,64.20 0 0 0 906.19,362.50Z"/><path class="mz" d="M927.83,377.15L930.50,373.53A64.20,64.20 0 0 1 945.37,388.93L941.66,391.47A59.70,59.70 0 0 0 927.83,377.15Z"/><path class="sb" d="M930.50,373.53L934.12,368.62A70.30,70.30 0 0 1 950.41,385.48L945.37,388.93A64.20,64.20 0 0 0 930.50,373.53Z"/><path class="mz" d="M937.18,399.76L948.22,393.49A64.20,64.20 0 0 1 955.55,413.61L943.05,415.90A51.50,51.50 0 0 0 937.18,399.76Z"/><path class="sb" d="M932.66,402.33L937.18,399.76A51.50,51.50 0 0 1 943.05,415.90L937.94,416.84A46.30,46.30 0 0 0 932.66,402.33Z"/><path class="mz" d="M956.29,418.94L991.72,415.46A99.80,99.80 0 0 1 989.40,448.67L954.80,440.30A64.20,64.20 0 0 0 956.29,418.94Z"/><path class="sb" d="M924.55,422.05L956.29,418.94A64.20,64.20 0 0 1 954.80,440.30L923.79,432.80A32.30,32.30 0 0 0 924.55,422.05Z"/><path class="mz" d="M948.57,443.89L953.32,445.46A64.20,64.20 0 0 1 943.26,464.37L939.30,461.32A59.20,59.20 0 0 0 948.57,443.89Z"/><path class="sb" d="M953.32,445.46L956.26,446.44A67.30,67.30 0 0 1 945.72,466.26L943.26,464.37A64.20,64.20 0 0 0 953.32,445.46Z"/><path class="mz" d="M919.65,450.08L939.81,468.49A64.20,64.20 0 0 1 922.94,481.67L909.95,457.66A36.90,36.90 0 0 0 919.65,450.08Z"/><path class="sb" d="M939.81,468.49L948.45,476.38A75.90,75.90 0 0 1 928.50,491.97L922.94,481.67A64.20,64.20 0 0 0 939.81,468.49Z"/><path class="mz" d="M914.98,476.88L918.10,484.03A64.20,64.20 0 0 1 897.33,489.21L896.73,481.43A56.40,56.40 0 0 0 914.98,476.88Z"/><path class="sb" d="M918.10,484.03L924.59,498.88A80.40,80.40 0 0 1 898.57,505.36L897.33,489.21A64.20,64.20 0 0 0 918.10,484.03Z"/><path class="mz" d="M891.95,489.40L891.95,489.70A64.50,64.50 0 0 1 870.76,485.96L870.86,485.68A64.20,64.20 0 0 0 891.95,489.40Z"/><path class="sb" d="M891.95,489.70L891.89,497.70A72.50,72.50 0 0 1 868.08,493.50L870.76,485.96A64.50,64.50 0 0 0 891.95,489.70Z"/><path class="mz" d="M865.88,483.67L865.55,484.39A65.00,65.00 0 0 1 847.57,472.27L848.13,471.69A64.20,64.20 0 0 0 865.88,483.67Z"/><path class="sb" d="M865.55,484.39L861.46,493.41A74.90,74.90 0 0 1 840.75,479.44L847.57,472.27A65.00,65.00 0 0 0 865.55,484.39Z"/><path class="mz" d="M844.39,467.82L841.47,470.41A68.10,68.10 0 0 1 829.44,451.15L833.04,449.66A64.20,64.20 0 0 0 844.39,467.82Z"/><path class="sb" d="M847.01,465.50L844.39,467.82A64.20,64.20 0 0 1 833.04,449.66L836.28,448.33A60.70,60.70 0 0 0 847.01,465.50Z"/><path class="sb" d="M831.21,444.61L820.43,448.03A75.50,75.50 0 0 1 816.93,423.09L828.23,423.41A64.20,64.20 0 0 0 831.21,444.61Z"/><path class="mz" d="M831.58,418.38L828.60,418.04A64.20,64.20 0 0 1 834.50,397.46L837.21,398.76A61.20,61.20 0 0 0 831.58,418.38Z"/><path class="sb" d="M828.60,418.04L812.50,416.24A80.40,80.40 0 0 1 819.89,390.46L834.50,397.46A64.20,64.20 0 0 0 828.60,418.04Z"/><path class="mz" d="M837.03,392.71L830.13,388.66A72.20,72.20 0 0 1 845.61,370.22L850.79,376.31A64.20,64.20 0 0 0 837.03,392.71Z"/><path class="sb" d="M830.13,388.66L823.57,384.82A79.80,79.80 0 0 1 840.68,364.43L845.61,370.22A72.20,72.20 0 0 0 830.13,388.66Z"/><path class="mz" d="M855.03,373.00L847.63,362.67A76.90,76.90 0 0 1 870.69,351.43L874.27,363.61A64.20,64.20 0 0 0 855.03,373.00Z"/><path class="sb" d="M847.63,362.67L843.85,357.39A83.40,83.40 0 0 1 868.85,345.19L870.69,351.43A76.90,76.90 0 0 0 847.63,362.67Z"/><circle class="dc" cx="893.30" cy="425.15" r="45.55"/><text class="ttl" x="893.20" y="434.50">2021</text><g fill="#000"><rect x="758.10" y="295.60" width="3.8" height="67.10"/><rect x="754.00" y="359.05" width="4.6" height="3.5"/><text class="tk" x="750.70" y="366.20">0</text><rect x="754.00" y="343.45" width="4.6" height="3.5"/><text class="tk" x="750.70" y="350.60">5</text><rect x="754.00" y="327.85" width="4.6" height="3.5"/><text class="tk" x="750.70" y="335.00">10</text><rect x="754.00" y="312.25" width="4.6" height="3.5"/><text class="tk" x="750.70" y="319.40">15</text><rect x="754.00" y="296.65" width="4.6" height="3.5"/><text class="tk" x="750.70" y="303.80">20</text><text class="pl" x="728.10" y="360.50" transform="rotate(-90 728.10 360.50)">Percent (%)</text></g><g clip-path="url(#c6)"><g filter="url(#bl)"><polygon points="240.05,700.00 96.35,556.30 383.75,556.30" fill="url(#g60)"/><polygon points="239.35,699.30 383.05,555.60 383.05,843.00" fill="url(#g61)"/><polygon points="240.05,698.60 383.75,842.30 96.35,842.30" fill="url(#g62)"/><polygon points="240.75,699.30 97.05,843.00 97.05,555.60" fill="url(#g63)"/></g></g><text class="lab" x="235.82" y="578.07" dx="1.7" dy="0.36em" transform="rotate(-2.00 235.82 578.07)">SU_CR</text><text class="lab" x="285.49" y="586.83" dx="0" dy="0.36em" transform="rotate(22.00 285.49 586.83)">TS_SR</text><text class="lab" x="327.31" y="615.04" dx="0" dy="0.36em" transform="rotate(46.00 327.31 615.04)">TS_AR</text><text class="lab" x="354.03" y="657.81" dx="0" dy="0.36em" transform="rotate(70.00 354.03 657.81)">TS_CR</text><text class="lab" x="361.05" y="707.76" dx="0" dy="0.36em" transform="rotate(-86.00 361.05 707.76)">FS_SR</text><text class="lab" x="347.15" y="756.25" dx="0" dy="0.36em" transform="rotate(-62.00 347.15 756.25)">FS_AR</text><text class="lab" x="314.73" y="794.89" dx="0" dy="0.36em" transform="rotate(-38.00 314.73 794.89)">FS_CR</text><text class="lab" x="269.40" y="817.00" dx="0" dy="0.36em" transform="rotate(-14.00 269.40 817.00)">BS_SR</text><text class="lab" x="218.99" y="818.76" dx="0" dy="0.36em" transform="rotate(10.00 218.99 818.76)">BS_AR</text><text class="lab" x="172.22" y="799.86" dx="0" dy="0.36em" transform="rotate(34.00 172.22 799.86)">BS_CR</text><text class="lab" x="137.18" y="763.58" dx="0" dy="0.36em" transform="rotate(58.00 137.18 763.58)">SH_SR</text><text class="lab" x="119.93" y="716.18" dx="0" dy="0.36em" transform="rotate(82.00 119.93 716.18)">SH_AR</text><text class="lab" x="123.45" y="665.87" dx="0" dy="0.36em" transform="rotate(-74.00 123.45 665.87)">SH_CR</text><text class="lab" x="147.13" y="621.33" dx="0" dy="0.36em" transform="rotate(-50.00 147.13 621.33)">SU_SR</text><text class="lab" x="186.88" y="590.28" dx="0" dy="0.36em" transform="rotate(-26.00 186.88 590.28)">SU_AR</text><circle class="zc" cx="240.05" cy="699.30" r="63.6"/><path class="mz" d="M232.45,662.27L227.14,636.41A64.20,64.20 0 0 1 248.54,635.66L245.05,661.83A37.80,37.80 0 0 0 232.45,662.27Z"/><path class="sb" d="M227.14,636.41L222.54,613.98A87.10,87.10 0 0 1 251.57,612.97L248.54,635.66A64.20,64.20 0 0 0 227.14,636.41Z"/><path class="mz" d="M249.07,658.28L253.84,636.60A64.20,64.20 0 0 1 273.69,644.62L262.06,663.53A42.00,42.00 0 0 0 249.07,658.28Z"/><path class="sb" d="M253.84,636.60L262.55,596.94A104.80,104.80 0 0 1 294.96,610.04L273.69,644.62A64.20,64.20 0 0 0 253.84,636.60Z"/><path class="sb" d="M278.15,647.63L289.13,632.74A82.70,82.70 0 0 1 308.29,652.58L293.02,663.03A64.20,64.20 0 0 0 278.15,647.63Z"/><path class="mz" d="M295.87,667.59L296.22,667.39A64.60,64.60 0 0 1 303.59,687.64L303.20,687.71A64.20,64.20 0 0 0 295.87,667.59Z"/><path class="sb" d="M296.22,667.39L334.30,645.76A108.40,108.40 0 0 1 346.67,679.73L303.59,687.64A64.60,64.60 0 0 0 296.22,667.39Z"/><path class="mz" d="M303.94,693.04L330.22,690.46A90.60,90.60 0 0 1 328.11,720.60L302.45,714.40A64.20,64.20 0 0 0 303.94,693.04Z"/><path class="sb" d="M330.22,690.46L337.08,689.79A97.50,97.50 0 0 1 334.82,722.23L328.11,720.60A90.60,90.60 0 0 0 330.22,690.46Z"/><path class="mz" d="M291.95,716.57L300.97,719.56A64.20,64.20 0 0 1 290.91,738.47L283.39,732.67A54.70,54.70 0 0 0 291.95,716.57Z"/><path class="sb" d="M300.97,719.56L317.57,725.09A81.70,81.70 0 0 1 304.78,749.15L290.91,738.47A64.20,64.20 0 0 0 300.97,719.56Z"/><path class="mz" d="M259.03,716.63L287.46,742.59A64.20,64.20 0 0 1 270.59,755.77L252.27,721.91A25.70,25.70 0 0 0 259.03,716.63Z"/><path class="sb" d="M287.46,742.59L307.69,761.07A91.60,91.60 0 0 1 283.62,779.88L270.59,755.77A64.20,64.20 0 0 0 287.46,742.59Z"/><path class="mz" d="M258.39,741.27L265.75,758.13A64.20,64.20 0 0 1 244.98,763.31L243.56,744.97A45.80,45.80 0 0 0 258.39,741.27Z"/><path class="sb" d="M265.75,758.13L277.80,785.71A94.30,94.30 0 0 1 247.28,793.32L244.98,763.31A64.20,64.20 0 0 0 265.75,758.13Z"/><path class="mz" d="M239.65,756.60L239.60,763.50A64.20,64.20 0 0 1 218.51,759.78L220.83,753.28A57.30,57.30 0 0 0 239.65,756.60Z"/><path class="sb" d="M239.60,763.50L239.48,780.90A81.60,81.60 0 0 1 212.68,776.17L218.51,759.78A64.20,64.20 0 0 0 239.60,763.50Z"/><path class="mz" d="M216.50,751.21L213.53,757.77A64.20,64.20 0 0 1 195.78,745.79L200.74,740.58A57.00,57.00 0 0 0 216.50,751.21Z"/><path class="sb" d="M213.53,757.77L207.41,771.24A79.00,79.00 0 0 1 185.57,756.51L195.78,745.79A64.20,64.20 0 0 0 213.53,757.77Z"/><path class="mz" d="M204.38,730.97L192.04,741.92A64.20,64.20 0 0 1 180.69,723.76L195.95,717.48A47.70,47.70 0 0 0 204.38,730.97Z"/><path class="sb" d="M192.04,741.92L176.04,756.13A85.60,85.60 0 0 1 160.91,731.92L180.69,723.76A64.20,64.20 0 0 0 192.04,741.92Z"/><path class="mz" d="M192.49,714.39L178.86,718.71A64.20,64.20 0 0 1 175.88,697.51L190.17,697.91A49.90,49.90 0 0 0 192.49,714.39Z"/><path class="sb" d="M178.86,718.71L160.55,724.52A83.40,83.40 0 0 1 156.68,696.97L175.88,697.51A64.20,64.20 0 0 0 178.86,718.71Z"/><path class="mz" d="M197.42,694.52L176.25,692.14A64.20,64.20 0 0 1 182.15,671.56L201.36,680.76A42.90,42.90 0 0 0 197.42,694.52Z"/><path class="sb" d="M176.25,692.14L146.54,688.81A94.10,94.10 0 0 1 155.19,658.64L182.15,671.56A64.20,64.20 0 0 0 176.25,692.14Z"/><path class="mz" d="M188.56,669.09L184.68,666.81A64.20,64.20 0 0 1 198.44,650.41L201.36,653.84A59.70,59.70 0 0 0 188.56,669.09Z"/><path class="sb" d="M184.68,666.81L175.71,661.55A74.60,74.60 0 0 1 191.70,642.49L198.44,650.41A64.20,64.20 0 0 0 184.68,666.81Z"/><path class="mz" d="M204.60,649.78L202.68,647.10A64.20,64.20 0 0 1 221.92,637.71L222.86,640.88A60.90,60.90 0 0 0 204.60,649.78Z"/><path class="sb" d="M202.68,647.10L191.97,632.14A82.60,82.60 0 0 1 216.73,620.06L221.92,637.71A64.20,64.20 0 0 0 202.68,647.10Z"/><circle class="dc" cx="240.05" cy="699.30" r="45.55"/><text class="ttl" x="241.95" y="708.70">2022</text><g fill="#000"><rect x="106.10" y="569.70" width="3.8" height="67.10"/><rect x="102.00" y="633.15" width="4.6" height="3.5"/><text class="tk" x="98.70" y="640.30">0</text><rect x="102.00" y="617.55" width="4.6" height="3.5"/><text class="tk" x="98.70" y="624.70">5</text><rect x="102.00" y="601.95" width="4.6" height="3.5"/><text class="tk" x="98.70" y="609.10">10</text><rect x="102.00" y="586.35" width="4.6" height="3.5"/><text class="tk" x="98.70" y="593.50">15</text><rect x="102.00" y="570.75" width="4.6" height="3.5"/><text class="tk" x="98.70" y="577.90">20</text><text class="pl" x="76.10" y="634.60" transform="rotate(-90 76.10 634.60)">Percent (%)</text></g><g clip-path="url(#c7)"><g filter="url(#bl)"><polygon points="566.20,700.00 422.50,556.30 709.90,556.30" fill="url(#g70)"/><polygon points="565.50,699.30 709.20,555.60 709.20,843.00" fill="url(#g71)"/><polygon points="566.20,698.60 709.90,842.30 422.50,842.30" fill="url(#g72)"/><polygon points="566.90,699.30 423.20,843.00 423.20,555.60" fill="url(#g73)"/></g></g><text class="lab" x="561.97" y="578.07" dx="1.7" dy="0.36em" transform="rotate(-2.00 561.97 578.07)">SU_CR</text><text class="lab" x="611.64" y="586.83" dx="0" dy="0.36em" transform="rotate(22.00 611.64 586.83)">TS_SR</text><text class="lab" x="653.46" y="615.04" dx="0" dy="0.36em" transform="rotate(46.00 653.46 615.04)">TS_AR</text><text class="lab" x="680.18" y="657.81" dx="0" dy="0.36em" transform="rotate(70.00 680.18 657.81)">TS_CR</text><text class="lab" x="687.20" y="707.76" dx="0" dy="0.36em" transform="rotate(-86.00 687.20 707.76)">FS_SR</text><text class="lab" x="673.30" y="756.25" dx="0" dy="0.36em" transform="rotate(-62.00 673.30 756.25)">FS_AR</text><text class="lab" x="640.88" y="794.89" dx="0" dy="0.36em" transform="rotate(-38.00 640.88 794.89)">FS_CR</text><text class="lab" x="595.55" y="817.00" dx="0" dy="0.36em" transform="rotate(-14.00 595.55 817.00)">BS_SR</text><text class="lab" x="545.14" y="818.76" dx="0" dy="0.36em" transform="rotate(10.00 545.14 818.76)">BS_AR</text><text class="lab" x="498.37" y="799.86" dx="0" dy="0.36em" transform="rotate(34.00 498.37 799.86)">BS_CR</text><text class="lab" x="463.33" y="763.58" dx="0" dy="0.36em" transform="rotate(58.00 463.33 763.58)">SH_SR</text><text class="lab" x="446.08" y="716.18" dx="0" dy="0.36em" transform="rotate(82.00 446.08 716.18)">SH_AR</text><text class="lab" x="449.60" y="665.87" dx="0" dy="0.36em" transform="rotate(-74.00 449.60 665.87)">SH_CR</text><text class="lab" x="473.28" y="621.33" dx="0" dy="0.36em" transform="rotate(-50.00 473.28 621.33)">SU_SR</text><text class="lab" x="513.03" y="590.28" dx="0" dy="0.36em" transform="rotate(-26.00 513.03 590.28)">SU_AR</text><circle class="zc" cx="566.20" cy="699.30" r="63.6"/><path class="mz" d="M558.18,660.21L553.29,636.41A64.20,64.20 0 0 1 574.69,635.66L571.48,659.75A39.90,39.90 0 0 0 558.18,660.21Z"/><path class="sb" d="M553.29,636.41L550.84,624.46A76.40,76.40 0 0 1 576.30,623.57L574.69,635.66A64.20,64.20 0 0 0 553.29,636.41Z"/><path class="mz" d="M575.41,657.40L579.99,636.60A64.20,64.20 0 0 1 599.84,644.62L588.68,662.76A42.90,42.90 0 0 0 575.41,657.40Z"/><path class="sb" d="M579.99,636.60L586.28,607.98A93.50,93.50 0 0 1 615.19,619.66L599.84,644.62A64.20,64.20 0 0 0 579.99,636.60Z"/><path class="sb" d="M604.30,647.63L611.60,637.73A76.50,76.50 0 0 1 629.32,656.08L619.17,663.03A64.20,64.20 0 0 0 604.30,647.63Z"/><path class="mz" d="M622.02,667.59L630.80,662.60A74.30,74.30 0 0 1 639.28,685.89L629.35,687.71A64.20,64.20 0 0 0 622.02,667.59Z"/><path class="sb" d="M630.80,662.60L643.85,655.19A89.30,89.30 0 0 1 654.03,683.18L639.28,685.89A74.30,74.30 0 0 0 630.80,662.60Z"/><path class="mz" d="M630.09,693.04L654.18,690.67A88.40,88.40 0 0 1 652.12,720.09L628.60,714.40A64.20,64.20 0 0 0 630.09,693.04Z"/><path class="sb" d="M654.18,690.67L657.06,690.39A91.30,91.30 0 0 1 654.94,720.77L652.12,720.09A88.40,88.40 0 0 0 654.18,690.67Z"/><path class="mz" d="M615.45,715.68L627.12,719.56A64.20,64.20 0 0 1 617.06,738.47L607.32,730.97A51.90,51.90 0 0 0 615.45,715.68Z"/><path class="sb" d="M627.12,719.56L642.87,724.80A80.80,80.80 0 0 1 630.22,748.60L617.06,738.47A64.20,64.20 0 0 0 627.12,719.56Z"/><path class="mz" d="M585.10,716.56L613.61,742.59A64.20,64.20 0 0 1 596.74,755.77L578.38,721.82A25.60,25.60 0 0 0 585.10,716.56Z"/><path class="sb" d="M613.61,742.59L637.61,764.51A96.70,96.70 0 0 1 612.19,784.36L596.74,755.77A64.20,64.20 0 0 0 613.61,742.59Z"/><path class="mz" d="M581.49,734.31L591.90,758.13A64.20,64.20 0 0 1 571.13,763.31L569.13,737.39A38.20,38.20 0 0 0 581.49,734.31Z"/><path class="sb" d="M591.90,758.13L599.63,775.82A83.50,83.50 0 0 1 572.61,782.55L571.13,763.31A64.20,64.20 0 0 0 591.90,758.13Z"/><path class="mz" d="M565.86,748.70L565.75,763.50A64.20,64.20 0 0 1 544.66,759.78L549.63,745.84A49.40,49.40 0 0 0 565.86,748.70Z"/><path class="sb" d="M565.75,763.50L565.66,776.30A77.00,77.00 0 0 1 540.37,771.84L544.66,759.78A64.20,64.20 0 0 0 565.75,763.50Z"/><path class="mz" d="M545.38,745.20L539.68,757.77A64.20,64.20 0 0 1 521.93,745.79L531.44,735.80A50.40,50.40 0 0 0 545.38,745.20Z"/><path class="sb" d="M539.68,757.77L534.93,768.24A75.70,75.70 0 0 1 514.00,754.12L521.93,745.79A64.20,64.20 0 0 0 539.68,757.77Z"/><path class="mz" d="M530.23,731.23L518.19,741.92A64.20,64.20 0 0 1 506.84,723.76L521.73,717.63A48.10,48.10 0 0 0 530.23,731.23Z"/><path class="sb" d="M518.19,741.92L503.38,755.07A84.00,84.00 0 0 1 488.54,731.31L506.84,723.76A64.20,64.20 0 0 0 518.19,741.92Z"/><path class="mz" d="M522.54,713.15L505.01,718.71A64.20,64.20 0 0 1 502.03,697.51L520.42,698.02A45.80,45.80 0 0 0 522.54,713.15Z"/><path class="sb" d="M505.01,718.71L489.94,723.49A80.00,80.00 0 0 1 486.23,697.07L502.03,697.51A64.20,64.20 0 0 0 505.01,718.71Z"/><path class="mz" d="M527.24,694.93L502.40,692.14A64.20,64.20 0 0 1 508.30,671.56L530.85,682.36A39.20,39.20 0 0 0 527.24,694.93Z"/><path class="sb" d="M502.40,692.14L482.82,689.95A83.90,83.90 0 0 1 490.54,663.05L508.30,671.56A64.20,64.20 0 0 0 502.40,692.14Z"/><path class="mz" d="M521.26,672.94L510.83,666.81A64.20,64.20 0 0 1 524.59,650.41L532.43,659.62A52.10,52.10 0 0 0 521.26,672.94Z"/><path class="sb" d="M510.83,666.81L499.18,659.98A77.70,77.70 0 0 1 515.84,640.13L524.59,650.41A64.20,64.20 0 0 0 510.83,666.81Z"/><path class="mz" d="M533.78,654.01L528.83,647.10A64.20,64.20 0 0 1 548.07,637.71L550.47,645.87A55.70,55.70 0 0 0 533.78,654.01Z"/><path class="sb" d="M528.83,647.10L520.39,635.31A78.70,78.70 0 0 1 543.98,623.80L548.07,637.71A64.20,64.20 0 0 0 528.83,647.10Z"/><circle class="dc" cx="566.65" cy="700.25" r="45.55"/><text class="ttl" x="566.45" y="689.00">Annual</text><text class="ttl" x="566.45" y="712.40">average</text><g fill="#000"><rect x="432.10" y="569.70" width="3.8" height="67.10"/><rect x="428.00" y="633.15" width="4.6" height="3.5"/><text class="tk" x="424.70" y="640.30">0</text><rect x="428.00" y="617.55" width="4.6" height="3.5"/><text class="tk" x="424.70" y="624.70">5</text><rect x="428.00" y="601.95" width="4.6" height="3.5"/><text class="tk" x="424.70" y="609.10">10</text><rect x="428.00" y="586.35" width="4.6" height="3.5"/><text class="tk" x="424.70" y="593.50">15</text><rect x="428.00" y="570.75" width="4.6" height="3.5"/><text class="tk" x="424.70" y="577.90">20</text><text class="pl" x="402.10" y="634.60" transform="rotate(-90 402.10 634.60)">Percent (%)</text></g><g clip-path="url(#c8)"><g filter="url(#bl)"><polygon points="892.40,700.00 748.70,556.30 1036.10,556.30" fill="url(#g80)"/><polygon points="891.70,699.30 1035.40,555.60 1035.40,843.00" fill="url(#g81)"/><polygon points="892.40,698.60 1036.10,842.30 748.70,842.30" fill="url(#g82)"/><polygon points="893.10,699.30 749.40,843.00 749.40,555.60" fill="url(#g83)"/></g></g><text class="lab" x="888.17" y="578.07" dx="1.7" dy="0.36em" transform="rotate(-2.00 888.17 578.07)">SU_CR</text><text class="lab" x="937.84" y="586.83" dx="0" dy="0.36em" transform="rotate(22.00 937.84 586.83)">TS_SR</text><text class="lab" x="979.66" y="615.04" dx="0" dy="0.36em" transform="rotate(46.00 979.66 615.04)">TS_AR</text><text class="lab" x="1006.38" y="657.81" dx="0" dy="0.36em" transform="rotate(70.00 1006.38 657.81)">TS_CR</text><text class="lab" x="1013.40" y="707.76" dx="0" dy="0.36em" transform="rotate(-86.00 1013.40 707.76)">FS_SR</text><text class="lab" x="999.50" y="756.25" dx="0" dy="0.36em" transform="rotate(-62.00 999.50 756.25)">FS_AR</text><text class="lab" x="967.08" y="794.89" dx="0" dy="0.36em" transform="rotate(-38.00 967.08 794.89)">FS_CR</text><text class="lab" x="921.75" y="817.00" dx="0" dy="0.36em" transform="rotate(-14.00 921.75 817.00)">BS_SR</text><text class="lab" x="871.34" y="818.76" dx="0" dy="0.36em" transform="rotate(10.00 871.34 818.76)">BS_AR</text><text class="lab" x="824.57" y="799.86" dx="0" dy="0.36em" transform="rotate(34.00 824.57 799.86)">BS_CR</text><text class="lab" x="789.53" y="763.58" dx="0" dy="0.36em" transform="rotate(58.00 789.53 763.58)">SH_SR</text><text class="lab" x="772.28" y="716.18" dx="0" dy="0.36em" transform="rotate(82.00 772.28 716.18)">SH_AR</text><text class="lab" x="775.80" y="665.87" dx="0" dy="0.36em" transform="rotate(-74.00 775.80 665.87)">SH_CR</text><text class="lab" x="799.48" y="621.33" dx="0" dy="0.36em" transform="rotate(-50.00 799.48 621.33)">SU_SR</text><text class="lab" x="839.23" y="590.28" dx="0" dy="0.36em" transform="rotate(-26.00 839.23 590.28)">SU_AR</text><circle class="zc" cx="892.40" cy="699.30" r="63.6"/><path class="mz" d="M883.23,654.63L879.49,636.41A64.20,64.20 0 0 1 900.89,635.66L898.43,654.10A45.60,45.60 0 0 0 883.23,654.63Z"/><path class="sb" d="M879.49,636.41L874.60,612.61A88.50,88.50 0 0 1 904.10,611.58L900.89,635.66A64.20,64.20 0 0 0 879.49,636.41Z"/><path class="mz" d="M898.50,671.56L906.19,636.60A64.20,64.20 0 0 1 926.04,644.62L907.28,675.11A28.40,28.40 0 0 0 898.50,671.56Z"/><path class="sb" d="M906.19,636.60L915.85,592.65A109.20,109.20 0 0 1 949.62,606.29L926.04,644.62A64.20,64.20 0 0 0 906.19,636.60Z"/><path class="mz" d="M926.52,653.02L930.50,647.63A64.20,64.20 0 0 1 945.37,663.03L939.84,666.81A57.50,57.50 0 0 0 926.52,653.02Z"/><path class="sb" d="M930.50,647.63L935.24,641.19A72.20,72.20 0 0 1 951.97,658.51L945.37,663.03A64.20,64.20 0 0 0 930.50,647.63Z"/><path class="mz" d="M941.87,671.19L948.22,667.59A64.20,64.20 0 0 1 955.55,687.71L948.37,689.03A56.90,56.90 0 0 0 941.87,671.19Z"/><path class="mz" d="M956.29,693.04L983.36,690.38A91.40,91.40 0 0 1 981.24,720.79L954.80,714.40A64.20,64.20 0 0 0 956.29,693.04Z"/><path class="sb" d="M953.41,693.32L956.29,693.04A64.20,64.20 0 0 1 954.80,714.40L951.98,713.71A61.30,61.30 0 0 0 953.41,693.32Z"/><path class="mz" d="M945.35,716.91L953.32,719.56A64.20,64.20 0 0 1 943.26,738.47L936.61,733.35A55.80,55.80 0 0 0 945.35,716.91Z"/><path class="sb" d="M953.32,719.56L969.83,725.06A81.60,81.60 0 0 1 957.05,749.09L943.26,738.47A64.20,64.20 0 0 0 953.32,719.56Z"/><path class="mz" d="M917.06,721.82L939.81,742.59A64.20,64.20 0 0 1 922.94,755.77L908.29,728.68A33.40,33.40 0 0 0 917.06,721.82Z"/><path class="sb" d="M939.81,742.59L959.97,761.00A91.50,91.50 0 0 1 935.92,779.79L922.94,755.77A64.20,64.20 0 0 0 939.81,742.59Z"/><path class="mz" d="M911.22,742.37L918.10,758.13A64.20,64.20 0 0 1 897.33,763.31L896.01,746.16A47.00,47.00 0 0 0 911.22,742.37Z"/><path class="sb" d="M918.10,758.13L928.91,782.87A91.20,91.20 0 0 1 899.40,790.23L897.33,763.31A64.20,64.20 0 0 0 918.10,758.13Z"/><path class="mz" d="M892.00,755.90L891.95,763.50A64.20,64.20 0 0 1 870.86,759.78L873.41,752.62A56.60,56.60 0 0 0 892.00,755.90Z"/><path class="sb" d="M891.95,763.50L891.80,785.20A85.90,85.90 0 0 1 863.58,780.22L870.86,759.78A64.20,64.20 0 0 0 891.95,763.50Z"/><path class="mz" d="M868.52,751.94L865.88,757.77A64.20,64.20 0 0 1 848.13,745.79L852.54,741.16A57.80,57.80 0 0 0 868.52,751.94Z"/><path class="sb" d="M865.88,757.77L858.24,774.61A82.70,82.70 0 0 1 835.37,759.19L848.13,745.79A64.20,64.20 0 0 0 865.88,757.77Z"/><path class="mz" d="M847.83,738.87L844.39,741.92A64.20,64.20 0 0 1 833.04,723.76L837.30,722.01A59.60,59.60 0 0 0 847.83,738.87Z"/><path class="sb" d="M844.39,741.92L832.73,752.28A79.80,79.80 0 0 1 818.62,729.71L833.04,723.76A64.20,64.20 0 0 0 844.39,741.92Z"/><path class="mz" d="M841.88,715.33L831.21,718.71A64.20,64.20 0 0 1 828.23,697.51L839.42,697.82A53.00,53.00 0 0 0 841.88,715.33Z"/><path class="sb" d="M831.21,718.71L809.19,725.70A87.30,87.30 0 0 1 805.13,696.86L828.23,697.51A64.20,64.20 0 0 0 831.21,718.71Z"/><path class="mz" d="M845.20,694.01L828.60,692.14A64.20,64.20 0 0 1 834.50,671.56L849.56,678.78A47.50,47.50 0 0 0 845.20,694.01Z"/><path class="sb" d="M828.60,692.14L802.76,689.25A90.20,90.20 0 0 1 811.05,660.33L834.50,671.56A64.20,64.20 0 0 0 828.60,692.14Z"/><path class="mz" d="M841.77,669.60L837.03,666.81A64.20,64.20 0 0 1 850.79,650.41L854.36,654.60A58.70,58.70 0 0 0 841.77,669.60Z"/><path class="sb" d="M837.03,666.81L818.83,656.14A85.30,85.30 0 0 1 837.12,634.34L850.79,650.41A64.20,64.20 0 0 0 837.03,666.81Z"/><path class="sb" d="M855.03,647.10L841.58,628.32A87.30,87.30 0 0 1 867.75,615.55L874.27,637.71A64.20,64.20 0 0 0 855.03,647.10Z"/><circle class="dc" cx="892.65" cy="699.85" r="45.55"/><text class="ttl" x="895.35" y="692.70">Annual</text><text class="ttl" x="895.35" y="715.70">average</text><g fill="#000"><rect x="758.10" y="569.70" width="3.8" height="67.10"/><rect x="754.00" y="633.15" width="4.6" height="3.5"/><text class="tk" x="750.70" y="640.30">0</text><rect x="754.00" y="617.55" width="4.6" height="3.5"/><text class="tk" x="750.70" y="624.70">5</text><rect x="754.00" y="601.95" width="4.6" height="3.5"/><text class="tk" x="750.70" y="609.10">10</text><rect x="754.00" y="586.35" width="4.6" height="3.5"/><text class="tk" x="750.70" y="593.50">15</text><rect x="754.00" y="570.75" width="4.6" height="3.5"/><text class="tk" x="750.70" y="577.90">20</text><text class="pl" x="728.10" y="634.60" transform="rotate(-90 728.10 634.60)">Percent (%)</text></g>

<text class="lg" x="363" y="782">Climate year</text>
<circle cx="368.9" cy="794" r="9.3" fill="#EF812B"/>
<circle cx="368.9" cy="812.8" r="9.3" fill="#089EFA"/>
<text class="lg" x="388.5" y="800">Dry year</text>
<text class="lg" x="388.5" y="819.4">Wet year</text>
<text class="lg2" x="691.8" y="781">Crop type</text>
<rect x="692.7" y="787.6" width="31.2" height="13.6" fill="#FFFF00" stroke="#555" stroke-width="1"/>
<rect x="692.7" y="806.2" width="31.2" height="13.6" fill="#FF0000" stroke="#555" stroke-width="1"/>
<text class="lg2" x="730" y="799">Soybean</text>
<text class="lg2" x="730" y="818">Maize</text>

</svg>
</body></html>
